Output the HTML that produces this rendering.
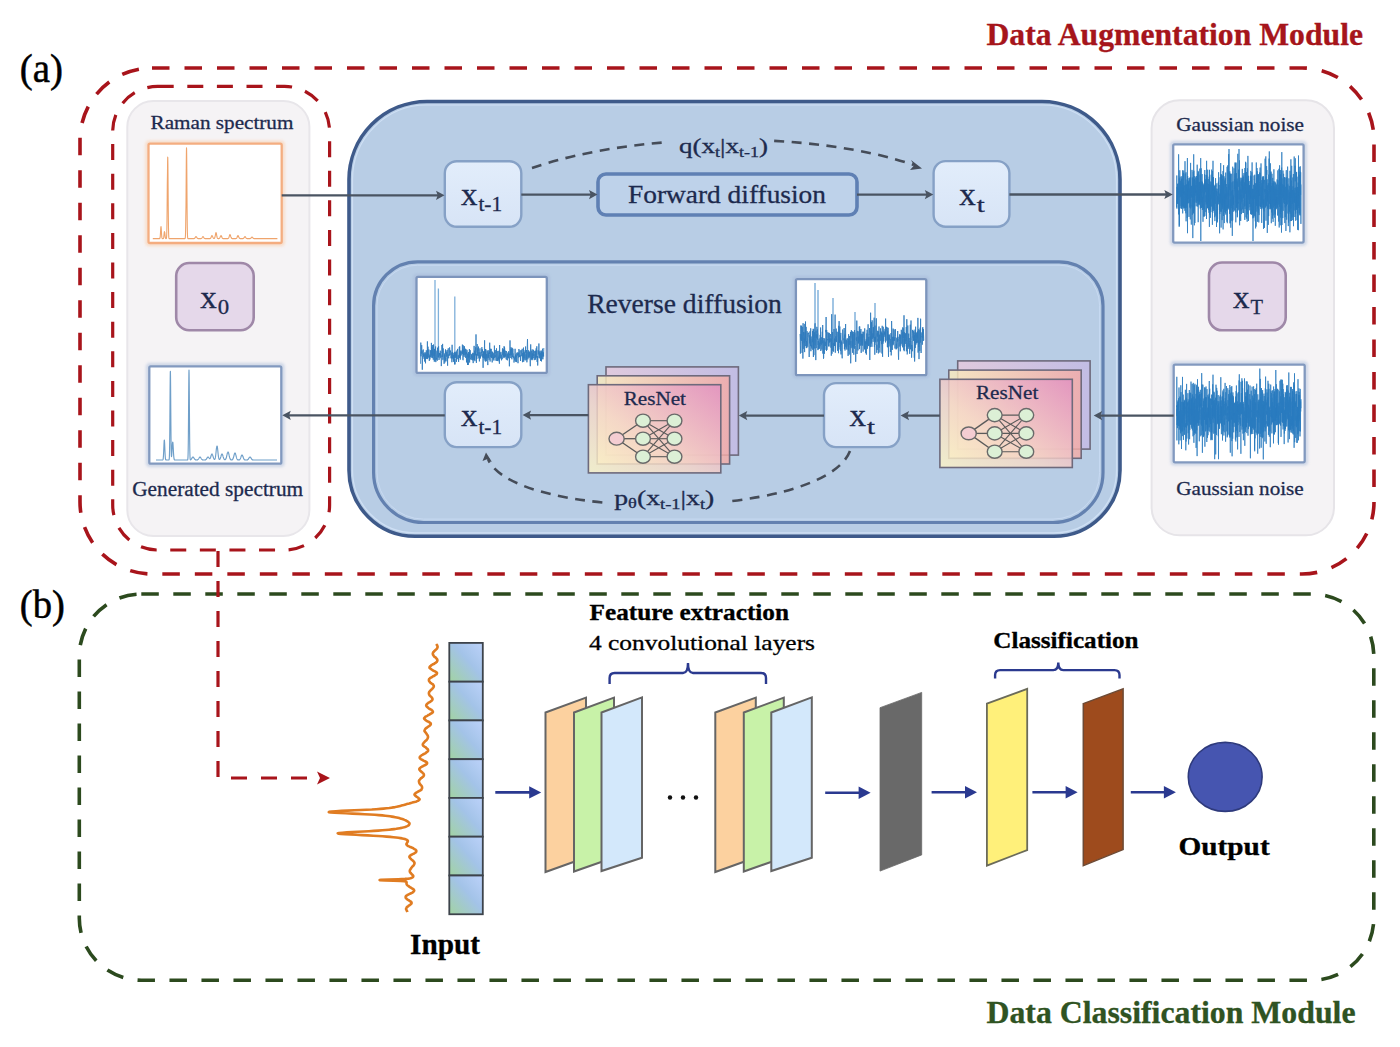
<!DOCTYPE html><html><head><meta charset="utf-8"><style>html,body{margin:0;padding:0;background:#fff;}svg{display:block;}</style></head><body>
<svg width="1400" height="1047" viewBox="0 0 1400 1047" font-family='"Liberation Serif", serif'>
<defs>
<linearGradient id="xb" x1="0" y1="0" x2="0" y2="1"><stop offset="0" stop-color="#e2edfb"/><stop offset="1" stop-color="#d7e4f6"/></linearGradient>
<linearGradient id="cell" x1="1" y1="0" x2="0" y2="1"><stop offset="0" stop-color="#bcd2fa"/><stop offset="0.45" stop-color="#a3c3e8"/><stop offset="1" stop-color="#a2d3a2"/></linearGradient>
<linearGradient id="rn3" x1="0" y1="0" x2="1" y2="0"><stop offset="0" stop-color="#e8c9dc"/><stop offset="1" stop-color="#c4b9e4"/></linearGradient>
<linearGradient id="rn2" x1="0" y1="0" x2="1" y2="0"><stop offset="0" stop-color="#f9ebbd"/><stop offset="1" stop-color="#f4aaa6"/></linearGradient>
<linearGradient id="rn1" x1="0" y1="1" x2="1" y2="0"><stop offset="0" stop-color="#fcf4c6"/><stop offset="0.4" stop-color="#f5d6c8"/><stop offset="1" stop-color="#e190c2"/></linearGradient>
<filter id="glow" x="-20%" y="-20%" width="140%" height="140%"><feGaussianBlur stdDeviation="1.5"/></filter>
</defs>
<text x="986.5" y="45.4" font-size="30.5" font-weight="bold" fill="#a6151b" stroke="#a6151b" stroke-width="0.3" textLength="376.5" lengthAdjust="spacingAndGlyphs" >Data Augmentation Module</text>
<text x="986.5" y="1023.3" font-size="30.5" font-weight="bold" fill="#2f5322" stroke="#2f5322" stroke-width="0.3" textLength="369" lengthAdjust="spacingAndGlyphs" >Data Classification Module</text>
<text x="19.8" y="82" font-size="40" font-weight="normal" fill="#000" stroke="#000" stroke-width="0.5" textLength="43.2" lengthAdjust="spacingAndGlyphs" >(a)</text>
<text x="19.8" y="617.5" font-size="40" font-weight="normal" fill="#000" stroke="#000" stroke-width="0.5" textLength="45" lengthAdjust="spacingAndGlyphs" >(b)</text>
<rect x="80" y="68" width="1294" height="506" rx="72" fill="none" stroke="#a8141b" stroke-width="3.6" stroke-dasharray="17.5 15"/>
<rect x="112.7" y="86.4" width="216.90000000000003" height="463.6" rx="45" fill="none" stroke="#a8141b" stroke-width="3.2" stroke-dasharray="16 13.6"/>
<rect x="79.3" y="594" width="1294.5" height="386.20000000000005" rx="62" fill="none" stroke="#2c4a1e" stroke-width="3.6" stroke-dasharray="17.5 14.5"/>
<rect x="127.3" y="101" width="182.09999999999997" height="435" rx="26" fill="#f5f3f5" stroke="#e8e6ea" stroke-width="2" />
<rect x="1151.6" y="100.3" width="182.4000000000001" height="434.99999999999994" rx="28" fill="#f5f3f5" stroke="#e6e4e8" stroke-width="2" />
<path d="M427 101.5 L1042 101.5 A78 78 0 0 1 1120 179.5 L1120 470.29999999999995 A66 66 0 0 1 1054 536.3 L415 536.3 A66 66 0 0 1 349 470.29999999999995 L349 179.5 A78 78 0 0 1 427 101.5 Z" fill="#b8cde5" stroke="#3e5a8a" stroke-width="3.6"/>
<path d="M427.0 105 L1042.0 105 A74.5 74.5 0 0 1 1116.5 179.5 L1116.5 470.29999999999995 A62.5 62.5 0 0 1 1054.0 532.8 L415.0 532.8 A62.5 62.5 0 0 1 352.5 470.29999999999995 L352.5 179.5 A74.5 74.5 0 0 1 427.0 105 Z" fill="none" stroke="#cfe0f5" stroke-width="1.2"/>
<path d="M417.6 261.8 L1059 261.8 A44 44 0 0 1 1103 305.8 L1103 472.5 A50 50 0 0 1 1053 522.5 L423.6 522.5 A50 50 0 0 1 373.6 472.5 L373.6 305.8 A44 44 0 0 1 417.6 261.8 Z" fill="none" stroke="#6381b0" stroke-width="3.2"/>
<path d="M417.6 265.2 L1059.0 265.2 A40.6 40.6 0 0 1 1099.6 305.8 L1099.6 472.5 A46.6 46.6 0 0 1 1053.0 519.1 L423.6 519.1 A46.6 46.6 0 0 1 377 472.5 L377 305.8 A40.6 40.6 0 0 1 417.6 265.2 Z" fill="none" stroke="#c8daf2" stroke-width="1"/>
<rect x="598" y="174" width="259" height="41" rx="8" fill="#bed2ea" stroke="#5f80b4" stroke-width="3.6" />
<text x="628" y="203" font-size="25.7" font-weight="normal" fill="#1d2a4e" stroke="#1d2a4e" stroke-width="0.3" textLength="198" lengthAdjust="spacingAndGlyphs" >Forward diffusion</text>
<text x="587.2" y="312.9" font-size="27" font-weight="normal" fill="#1d2a4e" stroke="#1d2a4e" stroke-width="0.3" textLength="194.7" lengthAdjust="spacingAndGlyphs" >Reverse diffusion</text>
<rect x="444.8" y="161.2" width="76.49999999999994" height="65.60000000000002" rx="12" fill="url(#xb)" stroke="#86a1c6" stroke-width="2.4" />
<text x="460.9" y="205" font-size="32" font-weight="normal" fill="#1d2a4e" stroke="#1d2a4e" stroke-width="0.3" textLength="16.5" lengthAdjust="spacingAndGlyphs" >x</text>
<text x="478.4" y="211.4" font-size="21.5" font-weight="normal" fill="#1d2a4e" stroke="#1d2a4e" stroke-width="0.3" textLength="23.8" lengthAdjust="spacingAndGlyphs" >t-1</text>
<rect x="933.6" y="161.1" width="75.79999999999995" height="65.6" rx="12" fill="url(#xb)" stroke="#86a1c6" stroke-width="2.4" />
<text x="959.3" y="204.9" font-size="32" font-weight="normal" fill="#1d2a4e" stroke="#1d2a4e" stroke-width="0.3" textLength="16.5" lengthAdjust="spacingAndGlyphs" >x</text>
<text x="976.8" y="212" font-size="21.5" font-weight="normal" fill="#1d2a4e" stroke="#1d2a4e" stroke-width="0.3" textLength="8" lengthAdjust="spacingAndGlyphs" >t</text>
<rect x="444.8" y="382.2" width="76.49999999999994" height="64.90000000000003" rx="12" fill="url(#xb)" stroke="#86a1c6" stroke-width="2.4" />
<text x="460.9" y="426" font-size="32" font-weight="normal" fill="#1d2a4e" stroke="#1d2a4e" stroke-width="0.3" textLength="16.5" lengthAdjust="spacingAndGlyphs" >x</text>
<text x="478.4" y="433.6" font-size="21.5" font-weight="normal" fill="#1d2a4e" stroke="#1d2a4e" stroke-width="0.3" textLength="23.8" lengthAdjust="spacingAndGlyphs" >t-1</text>
<rect x="824" y="383.1" width="75.39999999999998" height="64.0" rx="12" fill="url(#xb)" stroke="#86a1c6" stroke-width="2.4" />
<text x="849.6" y="426" font-size="32" font-weight="normal" fill="#1d2a4e" stroke="#1d2a4e" stroke-width="0.3" textLength="16.5" lengthAdjust="spacingAndGlyphs" >x</text>
<text x="867.1" y="433.6" font-size="21.5" font-weight="normal" fill="#1d2a4e" stroke="#1d2a4e" stroke-width="0.3" textLength="8" lengthAdjust="spacingAndGlyphs" >t</text>
<rect x="176.2" y="263" width="77.5" height="67.19999999999999" rx="13" fill="#e5d8ea" stroke="#9f88a8" stroke-width="2.6" />
<text x="200.2" y="308" font-size="32" font-weight="normal" fill="#1d2a4e" stroke="#1d2a4e" stroke-width="0.3" textLength="16.5" lengthAdjust="spacingAndGlyphs" >x</text>
<text x="217.7" y="314.2" font-size="20.5" font-weight="normal" fill="#1d2a4e" stroke="#1d2a4e" stroke-width="0.3" textLength="11.4" lengthAdjust="spacingAndGlyphs" >0</text>
<rect x="1209" y="262.5" width="76.70000000000005" height="67.80000000000001" rx="13" fill="#e5d8ea" stroke="#9f88a8" stroke-width="2.6" />
<text x="1233" y="308" font-size="32" font-weight="normal" fill="#1d2a4e" stroke="#1d2a4e" stroke-width="0.3" textLength="16.5" lengthAdjust="spacingAndGlyphs" >x</text>
<text x="1250.5" y="314" font-size="20.5" font-weight="normal" fill="#1d2a4e" stroke="#1d2a4e" stroke-width="0.3" textLength="12.5" lengthAdjust="spacingAndGlyphs" >T</text>
<rect x="147.0" y="142.2" width="136.2" height="102.30000000000001" rx="2" fill="none" stroke="#f9d3b6" stroke-width="3" filter="url(#glow)" opacity="0.8"/>
<rect x="148.5" y="143.7" width="133.2" height="99.30000000000001" rx="1.5" fill="#fff" stroke="#f4ad80" stroke-width="2.3" />
<rect x="147.8" y="364.8" width="135.0" height="100.39999999999998" rx="2" fill="none" stroke="#b9c8e0" stroke-width="3" filter="url(#glow)" opacity="0.8"/>
<rect x="149.3" y="366.3" width="132.0" height="97.39999999999998" rx="1.5" fill="#fff" stroke="#8299bf" stroke-width="2.3" />
<rect x="1171.7" y="142.8" width="133.39999999999986" height="101.29999999999998" rx="2" fill="none" stroke="#b9c8e0" stroke-width="3" filter="url(#glow)" opacity="0.8"/>
<rect x="1173.2" y="144.3" width="130.39999999999986" height="98.29999999999998" rx="1.5" fill="#fff" stroke="#8299bf" stroke-width="2.3" />
<rect x="1172.2" y="363.1" width="134.0" height="100.69999999999999" rx="2" fill="none" stroke="#b9c8e0" stroke-width="3" filter="url(#glow)" opacity="0.8"/>
<rect x="1173.7" y="364.6" width="131.0" height="97.69999999999999" rx="1.5" fill="#fff" stroke="#8299bf" stroke-width="2.3" />
<rect x="415.0" y="275.4" width="133.29999999999995" height="99.0" rx="2" fill="none" stroke="#a9bddb" stroke-width="3" filter="url(#glow)" opacity="0.8"/>
<rect x="416.5" y="276.9" width="130.29999999999995" height="96.0" rx="1.5" fill="#fff" stroke="#7d95bc" stroke-width="2.3" />
<rect x="794.4" y="277.7" width="133.39999999999998" height="99.0" rx="2" fill="none" stroke="#a9bddb" stroke-width="3" filter="url(#glow)" opacity="0.8"/>
<rect x="795.9" y="279.2" width="130.39999999999998" height="96.0" rx="1.5" fill="#fff" stroke="#7d95bc" stroke-width="2.3" />
<polyline points="152.8,238.6 152.9,238.6 153.0,238.6 153.1,238.6 153.2,238.6 153.3,238.6 153.4,238.6 153.5,238.6 153.6,238.6 153.7,238.6 153.8,238.6 153.9,238.6 154.0,238.6 154.2,238.6 154.3,238.6 154.4,238.6 154.5,238.6 154.6,238.6 154.7,238.6 154.8,238.6 154.9,238.6 155.0,238.6 155.1,238.6 155.2,238.6 155.3,238.6 155.4,238.6 155.5,238.6 155.6,238.6 155.7,238.6 155.8,238.6 155.9,238.6 156.0,238.6 156.1,238.6 156.2,238.6 156.3,238.6 156.4,238.6 156.5,238.6 156.6,238.6 156.7,238.6 156.9,238.6 157.0,238.6 157.1,238.6 157.2,238.6 157.3,238.6 157.4,238.6 157.5,238.6 157.6,238.6 157.7,238.6 157.8,238.6 157.9,238.6 158.0,238.6 158.1,238.6 158.2,238.6 158.3,238.6 158.4,238.6 158.5,238.6 158.6,238.6 158.7,238.6 158.8,238.6 158.9,238.6 159.0,238.6 159.1,238.6 159.2,238.6 159.3,238.6 159.5,238.6 159.6,238.6 159.7,238.5 159.8,238.4 159.9,238.3 160.0,238.0 160.1,237.5 160.2,236.8 160.3,235.7 160.4,234.4 160.5,232.8 160.6,231.0 160.7,229.3 160.8,227.8 160.9,226.9 161.0,226.6 161.1,227.0 161.2,228.1 161.3,229.6 161.4,231.3 161.5,233.1 161.6,234.7 161.7,235.9 161.8,236.9 161.9,237.6 162.0,238.0 162.2,238.3 162.3,238.5 162.4,238.5 162.5,238.6 162.6,238.6 162.7,238.6 162.8,238.6 162.9,238.6 163.0,238.6 163.1,238.6 163.2,238.5 163.3,238.5 163.4,238.4 163.5,238.2 163.6,237.8 163.7,237.4 163.8,236.7 163.9,235.9 164.0,234.9 164.1,233.8 164.2,232.9 164.3,232.1 164.4,231.7 164.5,231.6 164.6,232.0 164.8,232.7 164.9,233.7 165.0,234.7 165.1,235.7 165.2,236.6 165.3,237.3 165.4,237.8 165.5,238.1 165.6,238.3 165.7,238.5 165.8,238.5 165.9,238.6 166.0,238.6 166.1,238.6 166.2,238.5 166.3,238.5 166.4,238.3 166.5,237.8 166.6,236.8 166.7,235.1 166.8,231.9 166.9,226.9 167.0,219.4 167.1,209.4 167.2,197.3 167.3,184.1 167.5,171.6 167.6,162.0 167.7,157.0 167.8,157.7 167.9,163.9 168.0,174.4 168.1,187.2 168.2,200.3 168.3,212.1 168.4,221.5 168.5,228.3 168.6,232.8 168.7,235.6 168.8,237.1 168.9,237.9 169.0,238.3 169.1,238.5 169.2,238.6 169.3,238.6 169.4,238.6 169.5,238.6 169.6,238.6 169.7,238.6 169.8,238.6 169.9,238.6 170.1,238.6 170.2,238.6 170.3,238.6 170.4,238.6 170.5,238.6 170.6,238.6 170.7,238.6 170.8,238.6 170.9,238.6 171.0,238.6 171.1,238.6 171.2,238.6 171.3,238.6 171.4,238.6 171.5,238.6 171.6,238.6 171.7,238.6 171.8,238.6 171.9,238.6 172.0,238.6 172.1,238.6 172.2,238.6 172.3,238.6 172.4,238.6 172.5,238.6 172.6,238.6 172.8,238.6 172.9,238.6 173.0,238.6 173.1,238.6 173.2,238.6 173.3,238.6 173.4,238.6 173.5,238.6 173.6,238.6 173.7,238.6 173.8,238.6 173.9,238.6 174.0,238.6 174.1,238.6 174.2,238.6 174.3,238.6 174.4,238.6 174.5,238.6 174.6,238.6 174.7,238.6 174.8,238.6 174.9,238.6 175.0,238.6 175.1,238.6 175.2,238.6 175.4,238.6 175.5,238.6 175.6,238.6 175.7,238.6 175.8,238.6 175.9,238.6 176.0,238.6 176.1,238.6 176.2,238.6 176.3,238.6 176.4,238.6 176.5,238.6 176.6,238.6 176.7,238.6 176.8,238.6 176.9,238.6 177.0,238.6 177.1,238.6 177.2,238.6 177.3,238.6 177.4,238.6 177.5,238.6 177.6,238.6 177.7,238.6 177.8,238.6 177.9,238.6 178.1,238.6 178.2,238.6 178.3,238.6 178.4,238.6 178.5,238.6 178.6,238.6 178.7,238.6 178.8,238.6 178.9,238.6 179.0,238.6 179.1,238.6 179.2,238.6 179.3,238.6 179.4,238.6 179.5,238.6 179.6,238.6 179.7,238.6 179.8,238.6 179.9,238.6 180.0,238.6 180.1,238.6 180.2,238.6 180.3,238.6 180.4,238.6 180.5,238.6 180.7,238.6 180.8,238.6 180.9,238.6 181.0,238.6 181.1,238.6 181.2,238.6 181.3,238.6 181.4,238.6 181.5,238.6 181.6,238.6 181.7,238.6 181.8,238.6 181.9,238.6 182.0,238.6 182.1,238.6 182.2,238.6 182.3,238.6 182.4,238.6 182.5,238.6 182.6,238.6 182.7,238.6 182.8,238.6 182.9,238.6 183.0,238.6 183.1,238.6 183.2,238.6 183.4,238.6 183.5,238.6 183.6,238.6 183.7,238.6 183.8,238.6 183.9,238.6 184.0,238.6 184.1,238.6 184.2,238.6 184.3,238.6 184.4,238.6 184.5,238.6 184.6,238.6 184.7,238.6 184.8,238.6 184.9,238.6 185.0,238.5 185.1,238.4 185.2,238.2 185.3,237.6 185.4,236.5 185.5,234.4 185.6,230.8 185.7,224.9 185.8,216.4 186.0,205.1 186.1,191.4 186.2,176.7 186.3,163.1 186.4,152.8 186.5,147.9 186.6,149.2 186.7,156.6 186.8,168.6 186.9,183.0 187.0,197.4 187.1,210.2 187.2,220.4 187.3,227.7 187.4,232.5 187.5,235.5 187.6,237.1 187.7,237.9 187.8,238.3 187.9,238.5 188.0,238.6 188.1,238.6 188.2,238.6 188.3,238.6 188.4,238.6 188.5,238.6 188.7,238.6 188.8,238.6 188.9,238.6 189.0,238.6 189.1,238.6 189.2,238.6 189.3,238.6 189.4,238.6 189.5,238.6 189.6,238.6 189.7,238.6 189.8,238.6 189.9,238.6 190.0,238.6 190.1,238.6 190.2,238.6 190.3,238.6 190.4,238.6 190.5,238.6 190.6,238.6 190.7,238.6 190.8,238.6 190.9,238.6 191.0,238.6 191.1,238.6 191.3,238.6 191.4,238.6 191.5,238.6 191.6,238.6 191.7,238.6 191.8,238.6 191.9,238.6 192.0,238.6 192.1,238.6 192.2,238.6 192.3,238.6 192.4,238.6 192.5,238.6 192.6,238.6 192.7,238.6 192.8,238.6 192.9,238.6 193.0,238.6 193.1,238.6 193.2,238.6 193.3,238.6 193.4,238.6 193.5,238.6 193.6,238.6 193.7,238.6 193.8,238.6 194.0,238.6 194.1,238.6 194.2,238.5 194.3,238.5 194.4,238.5 194.5,238.4 194.6,238.3 194.7,238.3 194.8,238.1 194.9,238.0 195.0,237.9 195.1,237.7 195.2,237.5 195.3,237.4 195.4,237.2 195.5,237.0 195.6,236.9 195.7,236.8 195.8,236.7 195.9,236.6 196.0,236.6 196.1,236.6 196.2,236.7 196.3,236.8 196.4,237.0 196.6,237.1 196.7,237.3 196.8,237.5 196.9,237.6 197.0,237.8 197.1,238.0 197.2,238.1 197.3,238.2 197.4,238.3 197.5,238.4 197.6,238.4 197.7,238.5 197.8,238.5 197.9,238.5 198.0,238.6 198.1,238.6 198.2,238.6 198.3,238.6 198.4,238.6 198.5,238.6 198.6,238.6 198.7,238.6 198.8,238.6 198.9,238.6 199.0,238.6 199.1,238.6 199.3,238.6 199.4,238.6 199.5,238.6 199.6,238.6 199.7,238.6 199.8,238.6 199.9,238.6 200.0,238.6 200.1,238.6 200.2,238.6 200.3,238.6 200.4,238.6 200.5,238.6 200.6,238.6 200.7,238.6 200.8,238.6 200.9,238.6 201.0,238.6 201.1,238.5 201.2,238.5 201.3,238.5 201.4,238.4 201.5,238.4 201.6,238.3 201.7,238.2 201.9,238.1 202.0,237.9 202.1,237.8 202.2,237.6 202.3,237.4 202.4,237.3 202.5,237.1 202.6,236.9 202.7,236.8 202.8,236.7 202.9,236.6 203.0,236.6 203.1,236.6 203.2,236.7 203.3,236.8 203.4,236.9 203.5,237.1 203.6,237.2 203.7,237.4 203.8,237.6 203.9,237.8 204.0,237.9 204.1,238.1 204.2,238.2 204.3,238.3 204.4,238.4 204.6,238.4 204.7,238.5 204.8,238.5 204.9,238.5 205.0,238.6 205.1,238.6 205.2,238.6 205.3,238.6 205.4,238.6 205.5,238.6 205.6,238.6 205.7,238.6 205.8,238.6 205.9,238.6 206.0,238.6 206.1,238.6 206.2,238.6 206.3,238.6 206.4,238.6 206.5,238.6 206.6,238.6 206.7,238.6 206.8,238.6 206.9,238.6 207.0,238.6 207.2,238.6 207.3,238.6 207.4,238.6 207.5,238.6 207.6,238.6 207.7,238.6 207.8,238.6 207.9,238.6 208.0,238.6 208.1,238.6 208.2,238.6 208.3,238.6 208.4,238.6 208.5,238.6 208.6,238.6 208.7,238.6 208.8,238.6 208.9,238.6 209.0,238.6 209.1,238.6 209.2,238.6 209.3,238.6 209.4,238.6 209.5,238.6 209.6,238.6 209.7,238.6 209.9,238.6 210.0,238.6 210.1,238.5 210.2,238.5 210.3,238.5 210.4,238.4 210.5,238.3 210.6,238.2 210.7,238.1 210.8,237.9 210.9,237.7 211.0,237.5 211.1,237.3 211.2,237.0 211.3,236.7 211.4,236.5 211.5,236.2 211.6,236.0 211.7,235.8 211.8,235.7 211.9,235.6 212.0,235.6 212.1,235.7 212.2,235.8 212.3,235.9 212.5,236.2 212.6,236.4 212.7,236.7 212.8,236.9 212.9,237.2 213.0,237.4 213.1,237.7 213.2,237.8 213.3,238.0 213.4,238.2 213.5,238.3 213.6,238.4 213.7,238.4 213.8,238.5 213.9,238.5 214.0,238.5 214.1,238.5 214.2,238.5 214.3,238.4 214.4,238.3 214.5,238.2 214.6,238.0 214.7,237.8 214.8,237.5 214.9,237.1 215.0,236.6 215.2,236.1 215.3,235.6 215.4,235.0 215.5,234.4 215.6,233.8 215.7,233.3 215.8,233.0 215.9,232.7 216.0,232.6 216.1,232.7 216.2,232.9 216.3,233.2 216.4,233.7 216.5,234.2 216.6,234.8 216.7,235.4 216.8,236.0 216.9,236.5 217.0,236.9 217.1,237.3 217.2,237.7 217.3,237.9 217.4,238.1 217.5,238.3 217.6,238.4 217.7,238.5 217.9,238.5 218.0,238.5 218.1,238.6 218.2,238.6 218.3,238.6 218.4,238.6 218.5,238.6 218.6,238.6 218.7,238.6 218.8,238.6 218.9,238.6 219.0,238.5 219.1,238.5 219.2,238.5 219.3,238.4 219.4,238.4 219.5,238.3 219.6,238.2 219.7,238.0 219.8,237.8 219.9,237.6 220.0,237.4 220.1,237.2 220.2,236.9 220.3,236.6 220.5,236.4 220.6,236.1 220.7,235.9 220.8,235.8 220.9,235.7 221.0,235.6 221.1,235.6 221.2,235.7 221.3,235.8 221.4,236.0 221.5,236.2 221.6,236.5 221.7,236.8 221.8,237.0 221.9,237.3 222.0,237.5 222.1,237.7 222.2,237.9 222.3,238.1 222.4,238.2 222.5,238.3 222.6,238.4 222.7,238.5 222.8,238.5 222.9,238.5 223.0,238.6 223.2,238.6 223.3,238.6 223.4,238.6 223.5,238.6 223.6,238.6 223.7,238.6 223.8,238.6 223.9,238.6 224.0,238.6 224.1,238.6 224.2,238.6 224.3,238.6 224.4,238.6 224.5,238.6 224.6,238.6 224.7,238.6 224.8,238.6 224.9,238.6 225.0,238.6 225.1,238.6 225.2,238.6 225.3,238.6 225.4,238.6 225.5,238.6 225.6,238.6 225.8,238.6 225.9,238.6 226.0,238.6 226.1,238.6 226.2,238.6 226.3,238.6 226.4,238.6 226.5,238.6 226.6,238.6 226.7,238.6 226.8,238.6 226.9,238.6 227.0,238.6 227.1,238.6 227.2,238.6 227.3,238.6 227.4,238.6 227.5,238.6 227.6,238.6 227.7,238.6 227.8,238.6 227.9,238.5 228.0,238.5 228.1,238.5 228.2,238.4 228.3,238.3 228.5,238.2 228.6,238.1 228.7,237.9 228.8,237.7 228.9,237.5 229.0,237.2 229.1,236.9 229.2,236.6 229.3,236.2 229.4,235.8 229.5,235.5 229.6,235.2 229.7,234.9 229.8,234.7 229.9,234.6 230.0,234.6 230.1,234.7 230.2,234.8 230.3,235.0 230.4,235.3 230.5,235.6 230.6,235.9 230.7,236.3 230.8,236.6 230.9,237.0 231.1,237.3 231.2,237.5 231.3,237.8 231.4,238.0 231.5,238.1 231.6,238.3 231.7,238.4 231.8,238.4 231.9,238.5 232.0,238.5 232.1,238.5 232.2,238.6 232.3,238.6 232.4,238.6 232.5,238.6 232.6,238.6 232.7,238.6 232.8,238.6 232.9,238.6 233.0,238.6 233.1,238.6 233.2,238.6 233.3,238.6 233.4,238.6 233.5,238.6 233.6,238.6 233.8,238.6 233.9,238.6 234.0,238.6 234.1,238.6 234.2,238.6 234.3,238.6 234.4,238.6 234.5,238.6 234.6,238.6 234.7,238.6 234.8,238.6 234.9,238.6 235.0,238.6 235.1,238.6 235.2,238.6 235.3,238.6 235.4,238.6 235.5,238.6 235.6,238.6 235.7,238.6 235.8,238.6 235.9,238.6 236.0,238.5 236.1,238.5 236.2,238.5 236.4,238.4 236.5,238.3 236.6,238.2 236.7,238.1 236.8,237.9 236.9,237.8 237.0,237.6 237.1,237.3 237.2,237.1 237.3,236.8 237.4,236.5 237.5,236.3 237.6,236.0 237.7,235.9 237.8,235.7 237.9,235.6 238.0,235.6 238.1,235.6 238.2,235.7 238.3,235.9 238.4,236.1 238.5,236.3 238.6,236.6 238.7,236.9 238.8,237.1 238.9,237.4 239.1,237.6 239.2,237.8 239.3,238.0 239.4,238.1 239.5,238.3 239.6,238.3 239.7,238.4 239.8,238.5 239.9,238.5 240.0,238.5 240.1,238.6 240.2,238.6 240.3,238.6 240.4,238.6 240.5,238.6 240.6,238.6 240.7,238.6 240.8,238.6 240.9,238.6 241.0,238.6 241.1,238.6 241.2,238.6 241.3,238.6 241.4,238.6 241.5,238.6 241.7,238.6 241.8,238.6 241.9,238.6 242.0,238.6 242.1,238.6 242.2,238.6 242.3,238.6 242.4,238.6 242.5,238.6 242.6,238.6 242.7,238.6 242.8,238.6 242.9,238.6 243.0,238.6 243.1,238.5 243.2,238.5 243.3,238.5 243.4,238.4 243.5,238.4 243.6,238.3 243.7,238.2 243.8,238.1 243.9,238.0 244.0,237.8 244.1,237.6 244.2,237.5 244.4,237.3 244.5,237.1 244.6,237.0 244.7,236.8 244.8,236.7 244.9,236.6 245.0,236.6 245.1,236.6 245.2,236.7 245.3,236.8 245.4,236.9 245.5,237.0 245.6,237.2 245.7,237.4 245.8,237.6 245.9,237.7 246.0,237.9 246.1,238.0 246.2,238.2 246.3,238.3 246.4,238.3 246.5,238.4 246.6,238.5 246.7,238.5 246.8,238.5 247.0,238.6 247.1,238.6 247.2,238.6 247.3,238.6 247.4,238.6 247.5,238.6 247.6,238.6 247.7,238.6 247.8,238.6 247.9,238.6 248.0,238.6 248.1,238.6 248.2,238.6 248.3,238.6 248.4,238.6 248.5,238.6 248.6,238.6 248.7,238.6 248.8,238.6 248.9,238.6 249.0,238.6 249.1,238.6 249.2,238.6 249.3,238.6 249.4,238.6 249.5,238.6 249.7,238.6 249.8,238.6 249.9,238.6 250.0,238.6 250.1,238.6 250.2,238.5 250.3,238.5 250.4,238.5 250.5,238.4 250.6,238.4 250.7,238.3 250.8,238.2 250.9,238.2 251.0,238.0 251.1,237.9 251.2,237.8 251.3,237.7 251.4,237.5 251.5,237.4 251.6,237.3 251.7,237.2 251.8,237.1 251.9,237.1 252.0,237.1 252.1,237.1 252.3,237.2 252.4,237.3 252.5,237.4 252.6,237.5 252.7,237.6 252.8,237.8 252.9,237.9 253.0,238.0 253.1,238.1 253.2,238.2 253.3,238.3 253.4,238.4 253.5,238.4 253.6,238.5 253.7,238.5 253.8,238.5 253.9,238.6 254.0,238.6 254.1,238.6 254.2,238.6 254.3,238.6 254.4,238.6 254.5,238.6 254.6,238.6 254.7,238.6 254.8,238.6 255.0,238.6 255.1,238.6 255.2,238.6 255.3,238.6 255.4,238.6 255.5,238.6 255.6,238.6 255.7,238.6 255.8,238.6 255.9,238.6 256.0,238.6 256.1,238.6 256.2,238.6 256.3,238.6 256.4,238.6 256.5,238.6 256.6,238.6 256.7,238.6 256.8,238.6 256.9,238.6 257.0,238.6 257.1,238.6 257.2,238.6 257.3,238.6 257.4,238.6 257.6,238.6 257.7,238.6 257.8,238.6 257.9,238.6 258.0,238.6 258.1,238.6 258.2,238.6 258.3,238.6 258.4,238.6 258.5,238.6 258.6,238.6 258.7,238.6 258.8,238.6 258.9,238.6 259.0,238.6 259.1,238.6 259.2,238.6 259.3,238.6 259.4,238.6 259.5,238.6 259.6,238.6 259.7,238.6 259.8,238.6 259.9,238.6 260.0,238.6 260.1,238.6 260.3,238.6 260.4,238.6 260.5,238.6 260.6,238.6 260.7,238.6 260.8,238.6 260.9,238.6 261.0,238.6 261.1,238.6 261.2,238.6 261.3,238.6 261.4,238.6 261.5,238.6 261.6,238.6 261.7,238.6 261.8,238.6 261.9,238.6 262.0,238.6 262.1,238.6 262.2,238.6 262.3,238.6 262.4,238.6 262.5,238.6 262.6,238.6 262.7,238.6 262.9,238.6 263.0,238.6 263.1,238.6 263.2,238.6 263.3,238.6 263.4,238.6 263.5,238.6 263.6,238.6 263.7,238.6 263.8,238.6 263.9,238.6 264.0,238.6 264.1,238.6 264.2,238.6 264.3,238.6 264.4,238.6 264.5,238.6 264.6,238.6 264.7,238.6 264.8,238.6 264.9,238.6 265.0,238.6 265.1,238.6 265.2,238.6 265.3,238.6 265.4,238.6 265.6,238.6 265.7,238.6 265.8,238.6 265.9,238.6 266.0,238.6 266.1,238.6 266.2,238.6 266.3,238.6 266.4,238.6 266.5,238.6 266.6,238.6 266.7,238.6 266.8,238.6 266.9,238.6 267.0,238.6 267.1,238.6 267.2,238.6 267.3,238.6 267.4,238.6 267.5,238.6 267.6,238.6 267.7,238.6 267.8,238.6 267.9,238.6 268.0,238.6 268.2,238.6 268.3,238.6 268.4,238.6 268.5,238.6 268.6,238.6 268.7,238.6 268.8,238.6 268.9,238.6 269.0,238.6 269.1,238.6 269.2,238.6 269.3,238.6 269.4,238.6 269.5,238.6 269.6,238.6 269.7,238.6 269.8,238.6 269.9,238.6 270.0,238.6 270.1,238.6 270.2,238.6 270.3,238.6 270.4,238.6 270.5,238.6 270.6,238.6 270.7,238.6 270.9,238.6 271.0,238.6 271.1,238.6 271.2,238.6 271.3,238.6 271.4,238.6 271.5,238.6 271.6,238.6 271.7,238.6 271.8,238.6 271.9,238.6 272.0,238.6 272.1,238.6 272.2,238.6 272.3,238.6 272.4,238.6 272.5,238.6 272.6,238.6 272.7,238.6 272.8,238.6 272.9,238.6 273.0,238.6 273.1,238.6 273.2,238.6 273.3,238.6 273.5,238.6 273.6,238.6 273.7,238.6 273.8,238.6 273.9,238.6 274.0,238.6 274.1,238.6 274.2,238.6 274.3,238.6 274.4,238.6 274.5,238.6 274.6,238.6 274.7,238.6 274.8,238.6 274.9,238.6 275.0,238.6 275.1,238.6 275.2,238.6 275.3,238.6 275.4,238.6 275.5,238.6 275.6,238.6 275.7,238.6 275.8,238.6 275.9,238.6 276.0,238.6 276.2,238.6 276.3,238.6 276.4,238.6 276.5,238.6 276.6,238.6 276.7,238.6 276.8,238.6 276.9,238.6 277.0,238.6 277.1,238.6 277.2,238.6 277.3,238.6 277.4,238.6" fill="none" stroke="#efa46c" stroke-width="1.1" stroke-linejoin="round" />
<polyline points="156.0,460.0 156.1,460.0 156.2,460.0 156.3,460.0 156.4,460.0 156.5,460.0 156.6,460.0 156.7,460.0 156.8,460.0 156.9,460.0 157.0,460.0 157.1,460.0 157.2,460.0 157.3,460.0 157.4,460.0 157.5,460.0 157.6,460.0 157.7,460.0 157.8,460.0 157.9,460.0 158.0,460.0 158.1,460.0 158.2,460.0 158.3,460.0 158.4,460.0 158.5,460.0 158.6,460.0 158.7,460.0 158.8,460.0 158.9,460.0 159.0,460.0 159.1,460.0 159.2,460.0 159.3,460.0 159.4,460.0 159.5,460.0 159.6,460.0 159.7,460.0 159.8,460.0 159.9,460.0 160.0,460.0 160.1,460.0 160.2,460.0 160.3,460.0 160.4,460.0 160.5,460.0 160.6,460.0 160.7,460.0 160.8,460.0 160.9,460.0 161.0,460.0 161.1,460.0 161.2,460.0 161.3,460.0 161.4,460.0 161.6,460.0 161.7,460.0 161.8,460.0 161.9,460.0 162.0,460.0 162.1,460.0 162.2,460.0 162.3,460.0 162.4,460.0 162.5,460.0 162.6,460.0 162.7,459.9 162.8,459.8 162.9,459.7 163.0,459.5 163.1,459.1 163.2,458.6 163.3,457.7 163.4,456.6 163.5,455.1 163.6,453.3 163.7,451.1 163.8,448.7 163.9,446.2 164.0,443.9 164.1,442.0 164.2,440.6 164.3,440.0 164.4,440.2 164.5,441.2 164.6,442.9 164.7,445.1 164.8,447.5 164.9,450.0 165.0,452.3 165.1,454.3 165.2,455.9 165.3,457.2 165.4,458.2 165.5,458.9 165.6,459.3 165.7,459.6 165.8,459.8 165.9,459.9 166.0,459.9 166.1,460.0 166.2,460.0 166.3,460.0 166.4,460.0 166.5,460.0 166.6,460.0 166.7,460.0 166.8,460.0 166.9,460.0 167.0,460.0 167.1,460.0 167.2,460.0 167.3,460.0 167.4,460.0 167.5,460.0 167.6,460.0 167.7,460.0 167.8,460.0 167.9,460.0 168.0,460.0 168.1,460.0 168.2,460.0 168.3,460.0 168.4,460.0 168.5,460.0 168.6,460.0 168.7,460.0 168.8,460.0 168.9,459.9 169.0,459.8 169.1,459.6 169.2,459.1 169.3,458.1 169.4,456.2 169.5,453.0 169.6,447.9 169.7,440.3 169.8,430.1 169.9,417.6 170.0,403.7 170.1,390.3 170.2,379.2 170.3,372.4 170.4,371.3 170.5,376.0 170.6,385.6 170.7,398.4 170.8,412.3 170.9,425.4 171.0,436.5 171.1,444.9 171.2,450.7 171.3,454.2 171.4,456.0 171.5,456.6 171.6,456.3 171.7,455.5 171.8,454.2 171.9,452.6 172.0,450.8 172.1,448.8 172.2,446.9 172.3,445.2 172.4,443.7 172.6,442.6 172.7,442.1 172.8,442.1 172.9,442.6 173.0,443.7 173.1,445.2 173.2,447.0 173.3,448.9 173.4,450.8 173.5,452.7 173.6,454.3 173.7,455.7 173.8,456.9 173.9,457.8 174.0,458.5 174.1,459.0 174.2,459.4 174.3,459.6 174.4,459.8 174.5,459.9 174.6,459.9 174.7,460.0 174.8,460.0 174.9,460.0 175.0,460.0 175.1,460.0 175.2,460.0 175.3,460.0 175.4,460.0 175.5,460.0 175.6,460.0 175.7,460.0 175.8,460.0 175.9,460.0 176.0,460.0 176.1,460.0 176.2,460.0 176.3,460.0 176.4,460.0 176.5,460.0 176.6,460.0 176.7,460.0 176.8,460.0 176.9,460.0 177.0,460.0 177.1,460.0 177.2,460.0 177.3,460.0 177.4,460.0 177.5,460.0 177.6,460.0 177.7,460.0 177.8,460.0 177.9,460.0 178.0,460.0 178.1,460.0 178.2,460.0 178.3,460.0 178.4,460.0 178.5,460.0 178.6,460.0 178.7,460.0 178.8,460.0 178.9,460.0 179.0,460.0 179.1,460.0 179.2,460.0 179.3,460.0 179.4,460.0 179.5,460.0 179.6,460.0 179.7,460.0 179.8,460.0 179.9,460.0 180.0,460.0 180.1,460.0 180.2,460.0 180.3,460.0 180.4,460.0 180.5,460.0 180.6,460.0 180.7,460.0 180.8,460.0 180.9,460.0 181.0,460.0 181.1,460.0 181.2,460.0 181.3,460.0 181.4,460.0 181.5,460.0 181.6,460.0 181.7,460.0 181.8,460.0 181.9,460.0 182.0,460.0 182.1,460.0 182.2,460.0 182.3,460.0 182.4,460.0 182.5,460.0 182.6,460.0 182.7,460.0 182.8,460.0 182.9,460.0 183.0,460.0 183.1,460.0 183.2,460.0 183.3,460.0 183.4,460.0 183.6,460.0 183.7,460.0 183.8,460.0 183.9,460.0 184.0,460.0 184.1,460.0 184.2,460.0 184.3,460.0 184.4,460.0 184.5,460.0 184.6,460.0 184.7,460.0 184.8,460.0 184.9,460.0 185.0,460.0 185.1,460.0 185.2,460.0 185.3,460.0 185.4,460.0 185.5,460.0 185.6,460.0 185.7,460.0 185.8,460.0 185.9,460.0 186.0,460.0 186.1,460.0 186.2,460.0 186.3,460.0 186.4,460.0 186.5,460.0 186.6,460.0 186.7,460.0 186.8,460.0 186.9,460.0 187.0,460.0 187.1,460.0 187.2,460.0 187.3,460.0 187.4,460.0 187.5,460.0 187.6,459.9 187.7,459.7 187.8,459.3 187.9,458.5 188.0,456.9 188.1,454.1 188.2,449.6 188.3,442.7 188.4,433.2 188.5,421.2 188.6,407.5 188.7,393.5 188.8,381.3 188.9,373.0 189.0,370.0 189.1,373.0 189.2,381.3 189.3,393.5 189.4,407.5 189.5,421.2 189.6,433.2 189.7,442.7 189.8,449.5 189.9,454.1 190.0,456.8 190.1,458.4 190.2,459.2 190.3,459.6 190.4,459.7 190.5,459.8 190.6,459.7 190.7,459.7 190.8,459.6 190.9,459.6 191.0,459.5 191.1,459.4 191.2,459.3 191.3,459.1 191.4,459.0 191.5,458.9 191.6,458.7 191.7,458.5 191.8,458.4 191.9,458.2 192.0,458.0 192.1,457.9 192.2,457.7 192.3,457.5 192.4,457.4 192.5,457.3 192.6,457.2 192.7,457.1 192.8,457.0 192.9,457.0 193.0,457.0 193.1,457.0 193.2,457.1 193.3,457.1 193.4,457.2 193.5,457.4 193.6,457.5 193.7,457.7 193.8,457.8 193.9,458.0 194.0,458.2 194.1,458.3 194.2,458.5 194.3,458.7 194.4,458.8 194.6,459.0 194.7,459.1 194.8,459.2 194.9,459.3 195.0,459.5 195.1,459.5 195.2,459.6 195.3,459.7 195.4,459.7 195.5,459.8 195.6,459.8 195.7,459.9 195.8,459.9 195.9,459.9 196.0,459.9 196.1,460.0 196.2,460.0 196.3,460.0 196.4,460.0 196.5,460.0 196.6,460.0 196.7,460.0 196.8,460.0 196.9,460.0 197.0,459.9 197.1,459.9 197.2,459.9 197.3,459.9 197.4,459.9 197.5,459.8 197.6,459.8 197.7,459.7 197.8,459.7 197.9,459.6 198.0,459.5 198.1,459.4 198.2,459.3 198.3,459.2 198.4,459.1 198.5,458.9 198.6,458.8 198.7,458.6 198.8,458.4 198.9,458.3 199.0,458.1 199.1,457.9 199.2,457.8 199.3,457.6 199.4,457.5 199.5,457.3 199.6,457.2 199.7,457.1 199.8,457.1 199.9,457.0 200.0,457.0 200.1,457.0 200.2,457.1 200.3,457.1 200.4,457.2 200.5,457.3 200.6,457.5 200.7,457.6 200.8,457.8 200.9,457.9 201.0,458.1 201.1,458.3 201.2,458.4 201.3,458.6 201.4,458.8 201.5,458.9 201.6,459.1 201.7,459.2 201.8,459.3 201.9,459.4 202.0,459.5 202.1,459.6 202.2,459.7 202.3,459.7 202.4,459.8 202.5,459.8 202.6,459.9 202.7,459.9 202.8,459.9 202.9,459.9 203.0,459.9 203.1,460.0 203.2,460.0 203.3,460.0 203.4,460.0 203.5,460.0 203.6,460.0 203.7,460.0 203.8,460.0 203.9,460.0 204.0,460.0 204.1,460.0 204.2,460.0 204.3,460.0 204.4,460.0 204.5,460.0 204.6,460.0 204.7,460.0 204.8,460.0 204.9,460.0 205.0,459.9 205.1,459.9 205.2,459.9 205.3,459.9 205.4,459.8 205.6,459.8 205.7,459.7 205.8,459.7 205.9,459.6 206.0,459.5 206.1,459.4 206.2,459.3 206.3,459.2 206.4,459.1 206.5,459.0 206.6,458.8 206.7,458.6 206.8,458.5 206.9,458.3 207.0,458.1 207.1,458.0 207.2,457.8 207.3,457.6 207.4,457.5 207.5,457.4 207.6,457.2 207.7,457.1 207.8,457.1 207.9,457.0 208.0,457.0 208.1,457.0 208.2,457.0 208.3,457.1 208.4,457.2 208.5,457.3 208.6,457.4 208.7,457.5 208.8,457.7 208.9,457.8 209.0,457.9 209.1,458.1 209.2,458.2 209.3,458.3 209.4,458.4 209.5,458.5 209.6,458.6 209.7,458.6 209.8,458.6 209.9,458.6 210.0,458.5 210.1,458.4 210.2,458.2 210.3,458.1 210.4,457.9 210.5,457.6 210.6,457.4 210.7,457.1 210.8,456.8 210.9,456.4 211.0,456.1 211.1,455.8 211.2,455.4 211.3,455.1 211.4,454.9 211.5,454.6 211.6,454.4 211.7,454.2 211.8,454.1 211.9,454.0 212.0,454.0 212.1,454.0 212.2,454.1 212.3,454.3 212.4,454.4 212.5,454.7 212.6,454.9 212.7,455.2 212.8,455.5 212.9,455.9 213.0,456.2 213.1,456.6 213.2,456.9 213.3,457.2 213.4,457.6 213.5,457.9 213.6,458.1 213.7,458.4 213.8,458.6 213.9,458.8 214.0,459.0 214.1,459.2 214.2,459.3 214.3,459.4 214.4,459.4 214.5,459.4 214.6,459.4 214.7,459.4 214.8,459.3 214.9,459.1 215.0,458.9 215.1,458.7 215.2,458.3 215.3,457.9 215.4,457.4 215.5,456.8 215.6,456.1 215.7,455.3 215.8,454.5 215.9,453.5 216.0,452.6 216.1,451.6 216.2,450.5 216.3,449.6 216.4,448.7 216.6,447.8 216.7,447.1 216.8,446.6 216.9,446.2 217.0,446.0 217.1,446.0 217.2,446.2 217.3,446.6 217.4,447.2 217.5,447.9 217.6,448.7 217.7,449.7 217.8,450.6 217.9,451.6 218.0,452.6 218.1,453.6 218.2,454.5 218.3,455.4 218.4,456.2 218.5,456.8 218.6,457.4 218.7,457.9 218.8,458.4 218.9,458.7 219.0,459.0 219.1,459.2 219.2,459.3 219.3,459.4 219.4,459.4 219.5,459.4 219.6,459.4 219.7,459.4 219.8,459.3 219.9,459.1 220.0,459.0 220.1,458.8 220.2,458.6 220.3,458.4 220.4,458.1 220.5,457.8 220.6,457.5 220.7,457.2 220.8,456.9 220.9,456.5 221.0,456.2 221.1,455.8 221.2,455.5 221.3,455.2 221.4,454.9 221.5,454.6 221.6,454.4 221.7,454.2 221.8,454.1 221.9,454.0 222.0,454.0 222.1,454.0 222.2,454.1 222.3,454.2 222.4,454.4 222.5,454.6 222.6,454.9 222.7,455.2 222.8,455.5 222.9,455.8 223.0,456.2 223.1,456.5 223.2,456.9 223.3,457.2 223.4,457.5 223.5,457.8 223.6,458.1 223.7,458.4 223.8,458.6 223.9,458.8 224.0,459.0 224.1,459.2 224.2,459.3 224.3,459.4 224.4,459.5 224.5,459.6 224.6,459.7 224.7,459.7 224.8,459.7 224.9,459.7 225.0,459.7 225.1,459.7 225.2,459.7 225.3,459.6 225.4,459.5 225.5,459.4 225.6,459.3 225.7,459.2 225.8,459.0 225.9,458.8 226.0,458.6 226.1,458.3 226.2,458.0 226.3,457.6 226.4,457.3 226.5,456.9 226.6,456.5 226.7,456.0 226.8,455.6 226.9,455.1 227.0,454.7 227.1,454.2 227.2,453.8 227.3,453.4 227.4,453.0 227.6,452.7 227.7,452.4 227.8,452.2 227.9,452.1 228.0,452.0 228.1,452.0 228.2,452.1 228.3,452.2 228.4,452.4 228.5,452.7 228.6,453.0 228.7,453.4 228.8,453.8 228.9,454.3 229.0,454.7 229.1,455.2 229.2,455.6 229.3,456.1 229.4,456.5 229.5,456.9 229.6,457.3 229.7,457.7 229.8,458.0 229.9,458.3 230.0,458.6 230.1,458.8 230.2,459.0 230.3,459.2 230.4,459.3 230.5,459.5 230.6,459.6 230.7,459.7 230.8,459.7 230.9,459.8 231.0,459.8 231.1,459.9 231.2,459.9 231.3,459.9 231.4,459.9 231.5,459.9 231.6,459.9 231.7,459.9 231.8,459.9 231.9,459.9 232.0,459.9 232.1,459.8 232.2,459.8 232.3,459.7 232.4,459.7 232.5,459.6 232.6,459.5 232.7,459.3 232.8,459.2 232.9,459.0 233.0,458.8 233.1,458.6 233.2,458.3 233.3,458.1 233.4,457.7 233.5,457.4 233.6,457.1 233.7,456.7 233.8,456.3 233.9,455.9 234.0,455.5 234.1,455.1 234.2,454.7 234.3,454.3 234.4,454.0 234.5,453.7 234.6,453.4 234.7,453.2 234.8,453.1 234.9,453.0 235.0,453.0 235.1,453.0 235.2,453.1 235.3,453.3 235.4,453.5 235.5,453.8 235.6,454.1 235.7,454.5 235.8,454.8 235.9,455.2 236.0,455.6 236.1,456.0 236.2,456.4 236.3,456.8 236.4,457.2 236.5,457.5 236.6,457.9 236.7,458.2 236.8,458.4 236.9,458.7 237.0,458.9 237.1,459.1 237.2,459.2 237.3,459.4 237.4,459.5 237.5,459.6 237.6,459.7 237.7,459.8 237.8,459.8 237.9,459.8 238.0,459.9 238.1,459.9 238.2,459.9 238.3,459.9 238.4,459.9 238.6,459.9 238.7,459.9 238.8,459.9 238.9,459.9 239.0,459.9 239.1,459.9 239.2,459.9 239.3,459.8 239.4,459.8 239.5,459.7 239.6,459.6 239.7,459.6 239.8,459.5 239.9,459.3 240.0,459.2 240.1,459.1 240.2,458.9 240.3,458.7 240.4,458.5 240.5,458.2 240.6,458.0 240.7,457.7 240.8,457.4 240.9,457.2 241.0,456.9 241.1,456.6 241.2,456.3 241.3,456.0 241.4,455.8 241.5,455.6 241.6,455.4 241.7,455.2 241.8,455.1 241.9,455.0 242.0,455.0 242.1,455.0 242.2,455.1 242.3,455.2 242.4,455.3 242.5,455.5 242.6,455.7 242.7,455.9 242.8,456.2 242.9,456.5 243.0,456.8 243.1,457.1 243.2,457.3 243.3,457.6 243.4,457.9 243.5,458.1 243.6,458.4 243.7,458.6 243.8,458.8 243.9,459.0 244.0,459.2 244.1,459.3 244.2,459.4 244.3,459.5 244.4,459.6 244.5,459.7 244.6,459.8 244.7,459.8 244.8,459.8 244.9,459.9 245.0,459.9 245.1,459.9 245.2,459.9 245.3,460.0 245.4,460.0 245.5,460.0 245.6,460.0 245.7,460.0 245.8,460.0 245.9,460.0 246.0,460.0 246.1,460.0 246.2,460.0 246.3,460.0 246.4,460.0 246.5,460.0 246.6,460.0 246.7,460.0 246.8,460.0 246.9,460.0 247.0,459.9 247.1,459.9 247.2,459.9 247.3,459.9 247.4,459.8 247.5,459.8 247.6,459.8 247.7,459.7 247.8,459.6 247.9,459.5 248.0,459.5 248.1,459.4 248.2,459.2 248.3,459.1 248.4,459.0 248.5,458.8 248.6,458.7 248.7,458.5 248.8,458.3 248.9,458.2 249.0,458.0 249.1,457.8 249.2,457.7 249.3,457.5 249.4,457.4 249.6,457.3 249.7,457.2 249.8,457.1 249.9,457.0 250.0,457.0 250.1,457.0 250.2,457.0 250.3,457.1 250.4,457.2 250.5,457.3 250.6,457.4 250.7,457.5 250.8,457.7 250.9,457.8 251.0,458.0 251.1,458.2 251.2,458.4 251.3,458.5 251.4,458.7 251.5,458.8 251.6,459.0 251.7,459.1 251.8,459.3 251.9,459.4 252.0,459.5 252.1,459.6 252.2,459.6 252.3,459.7 252.4,459.8 252.5,459.8 252.6,459.8 252.7,459.9 252.8,459.9 252.9,459.9 253.0,459.9 253.1,460.0 253.2,460.0 253.3,460.0 253.4,460.0 253.5,460.0 253.6,460.0 253.7,460.0 253.8,460.0 253.9,460.0 254.0,460.0 254.1,460.0 254.2,460.0 254.3,460.0 254.4,460.0 254.5,460.0 254.6,460.0 254.7,460.0 254.8,460.0 254.9,460.0 255.0,460.0 255.1,460.0 255.2,460.0 255.3,460.0 255.4,460.0 255.5,460.0 255.6,460.0 255.7,460.0 255.8,460.0 255.9,460.0 256.0,460.0 256.1,460.0 256.2,460.0 256.3,460.0 256.4,460.0 256.5,460.0 256.6,460.0 256.7,460.0 256.8,460.0 256.9,460.0 257.0,460.0 257.1,460.0 257.2,460.0 257.3,460.0 257.4,460.0 257.5,460.0 257.6,460.0 257.7,460.0 257.8,460.0 257.9,460.0 258.0,460.0 258.1,460.0 258.2,460.0 258.3,460.0 258.4,460.0 258.5,460.0 258.6,460.0 258.7,460.0 258.8,460.0 258.9,460.0 259.0,460.0 259.1,460.0 259.2,460.0 259.3,460.0 259.4,460.0 259.5,460.0 259.6,460.0 259.7,460.0 259.8,460.0 259.9,460.0 260.0,460.0 260.1,460.0 260.2,460.0 260.3,460.0 260.4,460.0 260.6,460.0 260.7,460.0 260.8,460.0 260.9,460.0 261.0,460.0 261.1,460.0 261.2,460.0 261.3,460.0 261.4,460.0 261.5,460.0 261.6,460.0 261.7,460.0 261.8,460.0 261.9,460.0 262.0,460.0 262.1,460.0 262.2,460.0 262.3,460.0 262.4,460.0 262.5,460.0 262.6,460.0 262.7,460.0 262.8,460.0 262.9,460.0 263.0,460.0 263.1,460.0 263.2,460.0 263.3,460.0 263.4,460.0 263.5,460.0 263.6,460.0 263.7,460.0 263.8,460.0 263.9,460.0 264.0,460.0 264.1,460.0 264.2,460.0 264.3,460.0 264.4,460.0 264.5,460.0 264.6,460.0 264.7,460.0 264.8,460.0 264.9,460.0 265.0,460.0 265.1,460.0 265.2,460.0 265.3,460.0 265.4,460.0 265.5,460.0 265.6,460.0 265.7,460.0 265.8,460.0 265.9,460.0 266.0,460.0 266.1,460.0 266.2,460.0 266.3,460.0 266.4,460.0 266.5,460.0 266.6,460.0 266.7,460.0 266.8,460.0 266.9,460.0 267.0,460.0 267.1,460.0 267.2,460.0 267.3,460.0 267.4,460.0 267.5,460.0 267.6,460.0 267.7,460.0 267.8,460.0 267.9,460.0 268.0,460.0 268.1,460.0 268.2,460.0 268.3,460.0 268.4,460.0 268.5,460.0 268.6,460.0 268.7,460.0 268.8,460.0 268.9,460.0 269.0,460.0 269.1,460.0 269.2,460.0 269.3,460.0 269.4,460.0 269.5,460.0 269.6,460.0 269.7,460.0 269.8,460.0 269.9,460.0 270.0,460.0 270.1,460.0 270.2,460.0 270.3,460.0 270.4,460.0 270.5,460.0 270.6,460.0 270.7,460.0 270.8,460.0 270.9,460.0 271.0,460.0 271.1,460.0 271.2,460.0 271.3,460.0 271.4,460.0 271.6,460.0 271.7,460.0 271.8,460.0 271.9,460.0 272.0,460.0 272.1,460.0 272.2,460.0 272.3,460.0 272.4,460.0 272.5,460.0 272.6,460.0 272.7,460.0 272.8,460.0 272.9,460.0 273.0,460.0 273.1,460.0 273.2,460.0 273.3,460.0 273.4,460.0 273.5,460.0 273.6,460.0 273.7,460.0 273.8,460.0 273.9,460.0 274.0,460.0 274.1,460.0 274.2,460.0 274.3,460.0 274.4,460.0 274.5,460.0 274.6,460.0 274.7,460.0 274.8,460.0 274.9,460.0 275.0,460.0 275.1,460.0 275.2,460.0 275.3,460.0 275.4,460.0 275.5,460.0 275.6,460.0 275.7,460.0 275.8,460.0 275.9,460.0 276.0,460.0 276.1,460.0 276.2,460.0 276.3,460.0 276.4,460.0 276.5,460.0 276.6,460.0 276.7,460.0 276.8,460.0 276.9,460.0 277.0,460.0" fill="none" stroke="#6f9fc9" stroke-width="1.15" stroke-linejoin="round" />
<polyline points="1176.5,200.2 1176.6,207.3 1176.7,200.0 1176.8,175.5 1176.9,208.6 1176.9,201.7 1177.0,186.9 1177.1,203.7 1177.2,200.5 1177.3,199.4 1177.4,195.4 1177.5,203.2 1177.6,184.0 1177.7,192.6 1177.7,187.8 1177.8,204.0 1177.9,195.6 1178.0,190.6 1178.1,183.3 1178.2,191.1 1178.3,195.1 1178.4,190.9 1178.5,214.4 1178.5,210.1 1178.6,154.3 1178.7,166.7 1178.8,192.4 1178.9,188.7 1179.0,198.2 1179.1,198.3 1179.2,226.8 1179.3,178.3 1179.3,189.3 1179.4,225.6 1179.5,204.7 1179.6,204.9 1179.7,187.3 1179.8,170.3 1179.9,197.5 1180.0,196.6 1180.1,176.6 1180.1,184.8 1180.2,193.9 1180.3,180.8 1180.4,193.5 1180.5,196.4 1180.6,195.5 1180.7,187.4 1180.8,203.9 1180.9,208.4 1180.9,199.8 1181.0,182.7 1181.1,206.0 1181.2,187.5 1181.3,208.2 1181.4,178.9 1181.5,208.7 1181.6,194.7 1181.7,176.3 1181.8,190.3 1181.8,195.8 1181.9,199.1 1182.0,180.3 1182.1,178.4 1182.2,198.0 1182.3,188.0 1182.4,198.5 1182.5,206.4 1182.6,170.3 1182.6,198.8 1182.7,213.4 1182.8,190.5 1182.9,182.8 1183.0,206.3 1183.1,198.8 1183.2,208.4 1183.3,189.8 1183.4,172.8 1183.4,193.3 1183.5,188.3 1183.6,206.6 1183.7,197.9 1183.8,170.5 1183.9,177.1 1184.0,208.3 1184.1,205.2 1184.2,185.4 1184.2,195.0 1184.3,201.7 1184.4,202.0 1184.5,208.1 1184.6,198.8 1184.7,193.6 1184.8,191.1 1184.9,210.8 1185.0,161.2 1185.0,192.9 1185.1,195.5 1185.2,173.6 1185.3,200.0 1185.4,185.2 1185.5,207.9 1185.6,193.1 1185.7,205.0 1185.8,213.3 1185.8,200.7 1185.9,181.9 1186.0,172.3 1186.1,221.3 1186.2,193.3 1186.3,184.7 1186.4,197.2 1186.5,192.1 1186.6,207.8 1186.6,195.5 1186.7,195.2 1186.8,184.3 1186.9,202.0 1187.0,179.5 1187.1,205.0 1187.2,217.9 1187.3,172.1 1187.4,158.0 1187.4,204.3 1187.5,233.2 1187.6,180.0 1187.7,176.2 1187.8,203.8 1187.9,182.4 1188.0,187.4 1188.1,189.8 1188.2,203.0 1188.2,188.9 1188.3,199.2 1188.4,192.4 1188.5,182.3 1188.6,190.2 1188.7,180.7 1188.8,195.1 1188.9,178.1 1189.0,178.6 1189.0,216.9 1189.1,194.2 1189.2,194.2 1189.3,202.7 1189.4,188.7 1189.5,191.6 1189.6,201.4 1189.7,199.2 1189.8,177.6 1189.8,207.5 1189.9,186.1 1190.0,179.2 1190.1,181.5 1190.2,189.1 1190.3,219.4 1190.4,177.4 1190.5,197.4 1190.6,162.9 1190.6,195.0 1190.7,208.5 1190.8,191.5 1190.9,185.6 1191.0,198.5 1191.1,205.5 1191.2,205.0 1191.3,224.6 1191.4,198.1 1191.5,186.1 1191.5,193.1 1191.6,193.9 1191.7,196.6 1191.8,194.5 1191.9,197.6 1192.0,169.9 1192.1,207.4 1192.2,186.4 1192.3,177.4 1192.3,204.6 1192.4,214.8 1192.5,202.4 1192.6,197.4 1192.7,181.0 1192.8,238.1 1192.9,208.2 1193.0,177.9 1193.1,183.3 1193.1,196.3 1193.2,171.7 1193.3,197.5 1193.4,188.1 1193.5,213.4 1193.6,209.4 1193.7,154.3 1193.8,195.6 1193.9,170.7 1193.9,211.6 1194.0,197.5 1194.1,203.2 1194.2,179.0 1194.3,222.4 1194.4,225.3 1194.5,179.0 1194.6,200.6 1194.7,184.9 1194.7,194.6 1194.8,176.0 1194.9,223.0 1195.0,180.5 1195.1,190.6 1195.2,202.5 1195.3,185.3 1195.4,191.4 1195.5,186.5 1195.5,193.0 1195.6,177.4 1195.7,188.4 1195.8,191.9 1195.9,190.0 1196.0,195.9 1196.1,190.6 1196.2,206.3 1196.3,190.2 1196.3,193.0 1196.4,185.0 1196.5,187.1 1196.6,176.0 1196.7,202.8 1196.8,177.9 1196.9,183.8 1197.0,200.4 1197.1,201.0 1197.1,189.0 1197.2,164.7 1197.3,201.3 1197.4,198.9 1197.5,173.8 1197.6,206.6 1197.7,184.5 1197.8,178.1 1197.9,196.4 1197.9,192.3 1198.0,198.0 1198.1,170.9 1198.2,222.2 1198.3,186.0 1198.4,171.9 1198.5,204.3 1198.6,189.7 1198.7,199.9 1198.7,189.9 1198.8,194.1 1198.9,198.7 1199.0,183.8 1199.1,205.2 1199.2,188.0 1199.3,182.0 1199.4,196.2 1199.5,201.7 1199.5,191.6 1199.6,182.1 1199.7,204.3 1199.8,168.6 1199.9,179.5 1200.0,195.6 1200.1,174.6 1200.2,195.4 1200.3,194.2 1200.3,208.5 1200.4,181.3 1200.5,185.6 1200.6,200.0 1200.7,158.1 1200.8,241.0 1200.9,184.5 1201.0,184.1 1201.1,207.9 1201.2,194.4 1201.2,168.3 1201.3,204.4 1201.4,207.8 1201.5,188.3 1201.6,190.8 1201.7,202.3 1201.8,181.4 1201.9,201.6 1202.0,198.0 1202.0,184.9 1202.1,174.1 1202.2,191.6 1202.3,181.9 1202.4,210.0 1202.5,197.2 1202.6,206.7 1202.7,197.0 1202.8,198.9 1202.8,183.3 1202.9,205.0 1203.0,221.8 1203.1,190.4 1203.2,186.1 1203.3,192.6 1203.4,187.8 1203.5,184.5 1203.6,197.1 1203.6,190.6 1203.7,216.6 1203.8,195.0 1203.9,199.9 1204.0,209.3 1204.1,190.5 1204.2,216.6 1204.3,185.5 1204.4,182.9 1204.4,189.5 1204.5,193.3 1204.6,174.0 1204.7,194.5 1204.8,170.0 1204.9,215.9 1205.0,193.8 1205.1,185.4 1205.2,181.4 1205.2,189.2 1205.3,191.7 1205.4,179.3 1205.5,181.2 1205.6,192.2 1205.7,187.2 1205.8,209.1 1205.9,212.1 1206.0,195.2 1206.0,202.1 1206.1,175.0 1206.2,204.6 1206.3,194.5 1206.4,202.3 1206.5,219.0 1206.6,160.8 1206.7,198.9 1206.8,178.5 1206.8,203.9 1206.9,175.3 1207.0,187.6 1207.1,198.0 1207.2,204.2 1207.3,196.1 1207.4,183.1 1207.5,186.7 1207.6,208.3 1207.6,194.9 1207.7,169.7 1207.8,207.7 1207.9,201.2 1208.0,208.1 1208.1,190.0 1208.2,207.4 1208.3,179.1 1208.4,203.5 1208.4,187.6 1208.5,205.1 1208.6,210.1 1208.7,184.0 1208.8,194.2 1208.9,195.6 1209.0,212.8 1209.1,205.7 1209.2,176.7 1209.2,201.9 1209.3,206.2 1209.4,226.9 1209.5,169.8 1209.6,187.0 1209.7,215.0 1209.8,174.7 1209.9,177.0 1210.0,202.8 1210.1,210.3 1210.1,185.0 1210.2,203.1 1210.3,196.8 1210.4,217.8 1210.5,195.0 1210.6,209.9 1210.7,181.5 1210.8,192.2 1210.9,193.5 1210.9,212.1 1211.0,203.7 1211.1,183.7 1211.2,205.2 1211.3,206.6 1211.4,193.3 1211.5,191.1 1211.6,192.1 1211.7,169.6 1211.7,197.8 1211.8,198.5 1211.9,182.0 1212.0,206.1 1212.1,174.4 1212.2,186.7 1212.3,187.9 1212.4,224.8 1212.5,171.0 1212.5,203.4 1212.6,209.1 1212.7,200.7 1212.8,212.7 1212.9,180.0 1213.0,160.8 1213.1,206.5 1213.2,177.1 1213.3,190.1 1213.3,177.3 1213.4,210.8 1213.5,208.0 1213.6,184.2 1213.7,208.6 1213.8,196.8 1213.9,192.9 1214.0,195.9 1214.1,192.0 1214.1,204.2 1214.2,199.7 1214.3,189.8 1214.4,210.1 1214.5,185.8 1214.6,199.3 1214.7,201.3 1214.8,217.2 1214.9,187.4 1214.9,221.1 1215.0,197.6 1215.1,192.1 1215.2,184.9 1215.3,203.8 1215.4,195.7 1215.5,178.4 1215.6,178.1 1215.7,186.7 1215.7,184.9 1215.8,211.4 1215.9,215.6 1216.0,208.0 1216.1,200.4 1216.2,188.6 1216.3,195.8 1216.4,208.3 1216.5,227.0 1216.5,208.7 1216.6,190.8 1216.7,195.6 1216.8,187.8 1216.9,183.3 1217.0,192.2 1217.1,197.9 1217.2,222.5 1217.3,195.8 1217.3,215.4 1217.4,221.5 1217.5,196.2 1217.6,219.1 1217.7,205.7 1217.8,188.7 1217.9,199.0 1218.0,195.3 1218.1,191.5 1218.1,192.0 1218.2,197.2 1218.3,201.5 1218.4,181.7 1218.5,194.9 1218.6,172.2 1218.7,198.9 1218.8,204.4 1218.9,197.5 1218.9,199.3 1219.0,203.8 1219.1,185.0 1219.2,191.4 1219.3,202.7 1219.4,210.0 1219.5,200.9 1219.6,233.3 1219.7,193.6 1219.8,210.0 1219.8,214.0 1219.9,193.0 1220.0,182.7 1220.1,177.3 1220.2,197.4 1220.3,211.7 1220.4,199.1 1220.5,197.6 1220.6,189.3 1220.6,203.4 1220.7,163.0 1220.8,198.5 1220.9,195.4 1221.0,174.4 1221.1,227.6 1221.2,174.2 1221.3,178.8 1221.4,177.0 1221.4,211.7 1221.5,181.7 1221.6,205.0 1221.7,203.8 1221.8,198.9 1221.9,175.4 1222.0,185.8 1222.1,220.1 1222.2,175.6 1222.2,182.5 1222.3,192.6 1222.4,207.1 1222.5,198.8 1222.6,206.1 1222.7,179.0 1222.8,209.2 1222.9,203.5 1223.0,171.1 1223.0,218.1 1223.1,229.4 1223.2,183.5 1223.3,195.8 1223.4,216.0 1223.5,172.8 1223.6,165.2 1223.7,175.5 1223.8,186.5 1223.8,186.3 1223.9,204.1 1224.0,199.0 1224.1,176.3 1224.2,203.5 1224.3,223.1 1224.4,213.0 1224.5,209.9 1224.6,195.3 1224.6,209.8 1224.7,180.5 1224.8,206.3 1224.9,193.7 1225.0,212.0 1225.1,202.0 1225.2,178.7 1225.3,196.9 1225.4,213.3 1225.4,178.1 1225.5,186.6 1225.6,183.5 1225.7,172.6 1225.8,209.4 1225.9,214.7 1226.0,207.0 1226.1,198.6 1226.2,194.2 1226.2,198.6 1226.3,184.0 1226.4,208.4 1226.5,210.7 1226.6,209.0 1226.7,187.0 1226.8,196.2 1226.9,192.5 1227.0,221.8 1227.0,197.7 1227.1,166.8 1227.2,201.0 1227.3,223.2 1227.4,205.3 1227.5,208.2 1227.6,195.5 1227.7,165.4 1227.8,167.8 1227.8,176.3 1227.9,193.1 1228.0,199.6 1228.1,205.3 1228.2,189.9 1228.3,209.4 1228.4,190.8 1228.5,184.4 1228.6,207.8 1228.6,181.3 1228.7,154.1 1228.8,179.1 1228.9,196.4 1229.0,149.0 1229.1,189.6 1229.2,190.0 1229.3,173.6 1229.4,172.8 1229.5,188.1 1229.5,186.8 1229.6,213.9 1229.7,200.6 1229.8,171.3 1229.9,182.2 1230.0,205.6 1230.1,223.4 1230.2,200.8 1230.3,199.7 1230.3,222.9 1230.4,194.7 1230.5,190.4 1230.6,173.8 1230.7,187.3 1230.8,227.7 1230.9,173.7 1231.0,195.2 1231.1,173.9 1231.1,196.9 1231.2,208.3 1231.3,191.3 1231.4,206.0 1231.5,205.8 1231.6,201.7 1231.7,220.7 1231.8,206.7 1231.9,190.4 1231.9,184.8 1232.0,182.3 1232.1,202.1 1232.2,190.1 1232.3,235.9 1232.4,222.6 1232.5,191.8 1232.6,190.1 1232.7,220.4 1232.7,166.7 1232.8,188.2 1232.9,209.3 1233.0,181.3 1233.1,187.8 1233.2,189.7 1233.3,204.9 1233.4,197.1 1233.5,201.0 1233.5,203.9 1233.6,195.4 1233.7,211.7 1233.8,184.1 1233.9,173.5 1234.0,168.3 1234.1,170.7 1234.2,186.7 1234.3,210.5 1234.3,197.6 1234.4,186.0 1234.5,179.0 1234.6,187.1 1234.7,188.9 1234.8,186.5 1234.9,173.5 1235.0,187.9 1235.1,210.3 1235.1,162.4 1235.2,191.4 1235.3,163.2 1235.4,197.7 1235.5,183.8 1235.6,163.7 1235.7,196.5 1235.8,222.3 1235.9,196.6 1235.9,212.4 1236.0,193.9 1236.1,162.6 1236.2,202.4 1236.3,188.7 1236.4,173.1 1236.5,206.8 1236.6,199.3 1236.7,187.1 1236.7,208.0 1236.8,181.9 1236.9,204.7 1237.0,180.9 1237.1,203.0 1237.2,178.5 1237.3,217.3 1237.4,198.8 1237.5,216.5 1237.5,182.7 1237.6,187.9 1237.7,207.6 1237.8,153.8 1237.9,179.0 1238.0,210.5 1238.1,202.0 1238.2,209.7 1238.3,190.4 1238.3,203.5 1238.4,184.0 1238.5,174.4 1238.6,169.6 1238.7,186.7 1238.8,186.8 1238.9,185.6 1239.0,149.0 1239.1,165.0 1239.2,187.0 1239.2,199.3 1239.3,186.3 1239.4,181.8 1239.5,160.4 1239.6,225.3 1239.7,178.5 1239.8,220.3 1239.9,218.4 1240.0,199.1 1240.0,186.4 1240.1,197.0 1240.2,177.7 1240.3,198.9 1240.4,195.0 1240.5,203.0 1240.6,209.3 1240.7,221.0 1240.8,189.2 1240.8,210.7 1240.9,183.1 1241.0,181.6 1241.1,185.7 1241.2,180.3 1241.3,209.7 1241.4,208.8 1241.5,214.1 1241.6,194.6 1241.6,199.1 1241.7,186.3 1241.8,177.7 1241.9,201.7 1242.0,199.0 1242.1,178.4 1242.2,203.8 1242.3,168.9 1242.4,192.3 1242.4,185.5 1242.5,187.1 1242.6,178.7 1242.7,209.3 1242.8,203.5 1242.9,212.8 1243.0,197.0 1243.1,175.5 1243.2,189.3 1243.2,177.1 1243.3,201.7 1243.4,213.0 1243.5,199.7 1243.6,185.8 1243.7,189.3 1243.8,197.9 1243.9,173.1 1244.0,197.0 1244.0,197.8 1244.1,186.6 1244.2,188.5 1244.3,197.3 1244.4,182.4 1244.5,182.4 1244.6,206.4 1244.7,198.1 1244.8,219.9 1244.8,179.9 1244.9,168.0 1245.0,208.8 1245.1,209.0 1245.2,183.6 1245.3,172.6 1245.4,193.9 1245.5,168.3 1245.6,189.5 1245.6,161.8 1245.7,191.0 1245.8,162.7 1245.9,191.0 1246.0,217.3 1246.1,190.5 1246.2,206.0 1246.3,184.8 1246.4,181.1 1246.4,172.0 1246.5,210.0 1246.6,193.5 1246.7,218.7 1246.8,176.7 1246.9,191.0 1247.0,195.5 1247.1,215.5 1247.2,221.7 1247.2,184.6 1247.3,177.3 1247.4,168.2 1247.5,214.3 1247.6,193.0 1247.7,184.5 1247.8,193.5 1247.9,155.9 1248.0,168.4 1248.0,208.3 1248.1,200.2 1248.2,196.5 1248.3,179.2 1248.4,203.0 1248.5,220.9 1248.6,175.8 1248.7,194.4 1248.8,187.7 1248.9,199.6 1248.9,194.4 1249.0,192.0 1249.1,181.0 1249.2,194.0 1249.3,185.0 1249.4,192.0 1249.5,193.2 1249.6,204.0 1249.7,185.5 1249.7,189.3 1249.8,210.3 1249.9,190.9 1250.0,190.3 1250.1,207.2 1250.2,198.3 1250.3,195.6 1250.4,197.5 1250.5,175.6 1250.5,201.1 1250.6,214.1 1250.7,202.9 1250.8,170.9 1250.9,198.5 1251.0,180.7 1251.1,190.9 1251.2,196.3 1251.3,176.4 1251.3,214.4 1251.4,193.3 1251.5,206.3 1251.6,203.9 1251.7,214.6 1251.8,212.3 1251.9,172.3 1252.0,195.1 1252.1,162.4 1252.1,187.7 1252.2,205.2 1252.3,208.2 1252.4,213.8 1252.5,188.8 1252.6,199.3 1252.7,196.0 1252.8,213.5 1252.9,218.3 1252.9,189.1 1253.0,241.0 1253.1,194.5 1253.2,189.0 1253.3,203.5 1253.4,205.9 1253.5,202.7 1253.6,184.8 1253.7,216.7 1253.7,195.4 1253.8,217.7 1253.9,215.5 1254.0,175.5 1254.1,179.9 1254.2,179.6 1254.3,198.4 1254.4,195.5 1254.5,198.7 1254.5,182.5 1254.6,201.1 1254.7,215.8 1254.8,174.7 1254.9,191.8 1255.0,198.5 1255.1,192.8 1255.2,191.8 1255.3,221.3 1255.3,214.0 1255.4,207.5 1255.5,183.3 1255.6,228.4 1255.7,200.2 1255.8,186.1 1255.9,189.7 1256.0,187.4 1256.1,226.6 1256.1,197.9 1256.2,195.7 1256.3,162.5 1256.4,205.9 1256.5,178.9 1256.6,177.9 1256.7,204.0 1256.8,181.9 1256.9,207.3 1256.9,211.6 1257.0,168.0 1257.1,192.8 1257.2,171.2 1257.3,193.9 1257.4,208.5 1257.5,174.3 1257.6,221.8 1257.7,190.1 1257.7,177.0 1257.8,192.9 1257.9,206.7 1258.0,174.1 1258.1,194.8 1258.2,174.2 1258.3,212.8 1258.4,197.1 1258.5,188.4 1258.6,210.3 1258.6,175.4 1258.7,188.8 1258.8,222.4 1258.9,192.9 1259.0,215.1 1259.1,197.6 1259.2,184.2 1259.3,191.0 1259.4,195.9 1259.4,188.5 1259.5,182.3 1259.6,183.0 1259.7,172.4 1259.8,196.3 1259.9,200.6 1260.0,205.9 1260.1,167.6 1260.2,206.8 1260.2,194.4 1260.3,173.2 1260.4,196.1 1260.5,206.9 1260.6,202.5 1260.7,205.5 1260.8,208.9 1260.9,208.1 1261.0,194.1 1261.0,163.4 1261.1,183.3 1261.2,200.0 1261.3,187.6 1261.4,205.0 1261.5,206.7 1261.6,195.4 1261.7,222.9 1261.8,180.1 1261.8,208.7 1261.9,187.6 1262.0,183.0 1262.1,203.5 1262.2,185.5 1262.3,207.6 1262.4,177.2 1262.5,195.2 1262.6,182.1 1262.6,191.2 1262.7,189.1 1262.8,177.8 1262.9,204.5 1263.0,176.0 1263.1,180.0 1263.2,208.1 1263.3,209.3 1263.4,204.7 1263.4,199.8 1263.5,228.9 1263.6,176.6 1263.7,183.6 1263.8,179.8 1263.9,208.2 1264.0,199.1 1264.1,211.4 1264.2,209.3 1264.2,191.4 1264.3,182.5 1264.4,179.9 1264.5,227.9 1264.6,209.3 1264.7,203.7 1264.8,189.7 1264.9,191.8 1265.0,189.6 1265.0,189.9 1265.1,158.7 1265.2,193.9 1265.3,189.0 1265.4,199.1 1265.5,197.9 1265.6,207.6 1265.7,194.6 1265.8,206.7 1265.8,156.4 1265.9,178.3 1266.0,220.7 1266.1,176.5 1266.2,190.6 1266.3,205.4 1266.4,181.5 1266.5,205.6 1266.6,173.4 1266.6,166.1 1266.7,174.8 1266.8,170.0 1266.9,194.5 1267.0,190.0 1267.1,199.7 1267.2,179.3 1267.3,232.9 1267.4,193.4 1267.4,194.1 1267.5,201.6 1267.6,191.1 1267.7,185.3 1267.8,196.1 1267.9,208.6 1268.0,204.8 1268.1,208.9 1268.2,186.3 1268.3,183.2 1268.3,224.9 1268.4,191.2 1268.5,202.0 1268.6,205.9 1268.7,216.1 1268.8,174.6 1268.9,187.6 1269.0,188.3 1269.1,190.3 1269.1,158.6 1269.2,193.4 1269.3,151.4 1269.4,199.3 1269.5,202.9 1269.6,203.8 1269.7,176.8 1269.8,209.2 1269.9,181.9 1269.9,176.4 1270.0,180.2 1270.1,182.1 1270.2,197.5 1270.3,207.2 1270.4,163.3 1270.5,186.8 1270.6,208.4 1270.7,197.9 1270.7,202.5 1270.8,172.4 1270.9,209.2 1271.0,171.5 1271.1,197.9 1271.2,215.4 1271.3,223.2 1271.4,202.7 1271.5,208.2 1271.5,185.9 1271.6,187.8 1271.7,212.5 1271.8,195.0 1271.9,193.1 1272.0,173.8 1272.1,197.3 1272.2,204.7 1272.3,183.1 1272.3,187.4 1272.4,218.7 1272.5,197.7 1272.6,190.7 1272.7,177.9 1272.8,185.7 1272.9,191.3 1273.0,215.5 1273.1,185.8 1273.1,221.9 1273.2,181.1 1273.3,189.6 1273.4,207.7 1273.5,191.4 1273.6,182.5 1273.7,193.0 1273.8,201.7 1273.9,169.3 1273.9,191.3 1274.0,193.4 1274.1,188.9 1274.2,206.0 1274.3,186.5 1274.4,189.5 1274.5,195.6 1274.6,205.9 1274.7,191.7 1274.7,217.7 1274.8,181.4 1274.9,214.3 1275.0,182.1 1275.1,192.6 1275.2,200.5 1275.3,225.8 1275.4,208.4 1275.5,188.9 1275.5,214.5 1275.6,191.8 1275.7,183.1 1275.8,201.7 1275.9,196.4 1276.0,209.3 1276.1,186.8 1276.2,200.7 1276.3,204.5 1276.3,199.2 1276.4,194.6 1276.5,184.5 1276.6,208.6 1276.7,197.1 1276.8,202.4 1276.9,189.7 1277.0,195.2 1277.1,179.4 1277.2,196.3 1277.2,206.5 1277.3,196.4 1277.4,207.9 1277.5,199.7 1277.6,215.5 1277.7,192.1 1277.8,170.4 1277.9,201.5 1278.0,192.5 1278.0,180.4 1278.1,204.8 1278.2,199.0 1278.3,201.7 1278.4,190.0 1278.5,198.0 1278.6,198.8 1278.7,221.6 1278.8,184.7 1278.8,194.8 1278.9,200.5 1279.0,169.1 1279.1,171.0 1279.2,227.5 1279.3,168.5 1279.4,203.6 1279.5,182.3 1279.6,183.6 1279.6,165.3 1279.7,181.5 1279.8,206.8 1279.9,174.2 1280.0,203.9 1280.1,199.7 1280.2,225.3 1280.3,187.9 1280.4,214.0 1280.4,208.3 1280.5,190.7 1280.6,170.1 1280.7,217.6 1280.8,174.5 1280.9,187.9 1281.0,208.2 1281.1,211.7 1281.2,182.3 1281.2,194.5 1281.3,191.1 1281.4,212.7 1281.5,232.6 1281.6,167.6 1281.7,208.7 1281.8,152.1 1281.9,195.2 1282.0,178.4 1282.0,224.9 1282.1,197.5 1282.2,183.9 1282.3,187.5 1282.4,186.4 1282.5,197.8 1282.6,192.6 1282.7,204.8 1282.8,218.1 1282.8,205.5 1282.9,176.6 1283.0,170.6 1283.1,183.7 1283.2,210.8 1283.3,190.0 1283.4,185.0 1283.5,197.1 1283.6,173.8 1283.6,177.9 1283.7,202.7 1283.8,190.5 1283.9,188.2 1284.0,199.8 1284.1,186.2 1284.2,184.7 1284.3,188.1 1284.4,204.0 1284.4,195.9 1284.5,177.1 1284.6,190.5 1284.7,204.7 1284.8,223.1 1284.9,177.9 1285.0,200.1 1285.1,191.1 1285.2,207.4 1285.2,201.7 1285.3,217.1 1285.4,202.8 1285.5,186.8 1285.6,186.9 1285.7,201.1 1285.8,200.9 1285.9,231.0 1286.0,220.1 1286.0,177.4 1286.1,200.3 1286.2,175.0 1286.3,170.2 1286.4,206.2 1286.5,203.3 1286.6,179.4 1286.7,219.7 1286.8,180.3 1286.9,177.5 1286.9,204.8 1287.0,198.3 1287.1,192.6 1287.2,194.0 1287.3,198.4 1287.4,192.9 1287.5,192.4 1287.6,166.6 1287.7,174.9 1287.7,204.2 1287.8,184.4 1287.9,203.2 1288.0,213.5 1288.1,189.7 1288.2,199.2 1288.3,226.1 1288.4,205.4 1288.5,222.6 1288.5,218.0 1288.6,206.3 1288.7,193.3 1288.8,182.4 1288.9,178.3 1289.0,202.3 1289.1,202.0 1289.2,192.4 1289.3,207.7 1289.3,185.9 1289.4,211.7 1289.5,195.6 1289.6,194.5 1289.7,195.0 1289.8,193.5 1289.9,232.3 1290.0,170.8 1290.1,197.7 1290.1,213.7 1290.2,205.8 1290.3,190.5 1290.4,221.1 1290.5,179.0 1290.6,175.4 1290.7,203.5 1290.8,173.2 1290.9,159.3 1290.9,208.2 1291.0,206.4 1291.1,206.0 1291.2,187.7 1291.3,197.7 1291.4,180.5 1291.5,221.0 1291.6,206.9 1291.7,206.1 1291.7,165.8 1291.8,207.1 1291.9,217.4 1292.0,213.2 1292.1,206.8 1292.2,195.0 1292.3,189.9 1292.4,204.0 1292.5,200.7 1292.5,198.5 1292.6,190.4 1292.7,220.2 1292.8,177.5 1292.9,194.7 1293.0,186.3 1293.1,210.5 1293.2,216.5 1293.3,213.7 1293.3,206.3 1293.4,174.0 1293.5,226.2 1293.6,202.8 1293.7,193.4 1293.8,195.3 1293.9,189.9 1294.0,201.4 1294.1,199.7 1294.1,189.6 1294.2,156.5 1294.3,194.5 1294.4,202.2 1294.5,202.9 1294.6,192.7 1294.7,201.8 1294.8,210.4 1294.9,187.9 1294.9,217.0 1295.0,165.7 1295.1,176.1 1295.2,181.4 1295.3,158.3 1295.4,180.0 1295.5,213.7 1295.6,213.6 1295.7,196.5 1295.7,220.8 1295.8,198.6 1295.9,187.5 1296.0,198.6 1296.1,192.9 1296.2,206.0 1296.3,172.5 1296.4,210.0 1296.5,188.1 1296.6,207.8 1296.6,171.9 1296.7,188.7 1296.8,196.2 1296.9,208.5 1297.0,176.7 1297.1,220.0 1297.2,202.2 1297.3,187.1 1297.4,213.3 1297.4,196.5 1297.5,212.4 1297.6,229.8 1297.7,206.5 1297.8,187.1 1297.9,188.6 1298.0,203.7 1298.1,199.3 1298.2,182.5 1298.2,185.0 1298.3,205.0 1298.4,230.2 1298.5,155.5 1298.6,205.9 1298.7,191.8 1298.8,206.7 1298.9,208.0 1299.0,195.8 1299.0,179.8 1299.1,174.0 1299.2,166.9 1299.3,213.3 1299.4,191.9 1299.5,186.9 1299.6,190.8 1299.7,174.9 1299.8,199.6 1299.8,214.8 1299.9,212.1 1300.0,171.5 1300.1,215.5 1300.2,183.5 1300.3,166.3 1300.4,176.6 1300.5,180.5 1300.6,194.9 1300.6,179.5 1300.7,172.3 1300.8,191.0 1300.9,223.9 1301.0,184.5" fill="none" stroke="#2a7bbf" stroke-width="0.75" stroke-linejoin="round" />
<polyline points="1176.5,416.2 1176.6,405.6 1176.7,407.2 1176.8,376.8 1176.9,440.4 1176.9,430.6 1177.0,408.5 1177.1,425.0 1177.2,417.6 1177.3,405.1 1177.4,428.1 1177.5,408.7 1177.6,408.5 1177.7,401.5 1177.7,420.2 1177.8,411.9 1177.9,421.6 1178.0,404.3 1178.1,415.3 1178.2,400.0 1178.3,426.0 1178.4,416.2 1178.5,418.4 1178.5,419.6 1178.6,398.2 1178.7,425.1 1178.8,444.3 1178.9,388.8 1179.0,387.5 1179.1,390.8 1179.2,426.0 1179.3,415.3 1179.3,429.6 1179.4,424.2 1179.5,416.6 1179.6,417.7 1179.7,410.9 1179.8,426.4 1179.9,396.5 1180.0,407.1 1180.1,417.0 1180.1,440.4 1180.2,401.9 1180.3,397.2 1180.4,405.0 1180.5,427.9 1180.6,409.9 1180.7,433.3 1180.8,385.3 1180.9,430.3 1180.9,428.9 1181.0,392.1 1181.1,415.7 1181.2,431.6 1181.3,414.7 1181.4,428.4 1181.5,449.0 1181.6,417.5 1181.7,409.2 1181.8,401.8 1181.8,423.1 1181.9,410.4 1182.0,410.7 1182.1,411.8 1182.2,423.1 1182.3,397.4 1182.4,390.5 1182.5,376.9 1182.6,431.4 1182.6,414.5 1182.7,436.1 1182.8,413.3 1182.9,402.3 1183.0,420.6 1183.1,412.3 1183.2,394.6 1183.3,400.1 1183.4,439.9 1183.4,418.7 1183.5,419.6 1183.6,409.3 1183.7,403.1 1183.8,426.8 1183.9,411.8 1184.0,402.0 1184.1,411.4 1184.2,399.8 1184.2,416.3 1184.3,430.3 1184.4,400.9 1184.5,434.8 1184.6,403.4 1184.7,415.7 1184.8,400.9 1184.9,410.1 1185.0,414.1 1185.0,406.9 1185.1,402.9 1185.2,403.2 1185.3,401.1 1185.4,389.8 1185.5,409.5 1185.6,419.4 1185.7,427.0 1185.8,423.1 1185.8,450.3 1185.9,418.2 1186.0,406.6 1186.1,441.5 1186.2,397.7 1186.3,427.9 1186.4,399.1 1186.5,418.7 1186.6,383.9 1186.6,426.9 1186.7,411.0 1186.8,398.9 1186.9,438.6 1187.0,424.9 1187.1,414.1 1187.2,402.2 1187.3,412.7 1187.4,410.9 1187.4,424.3 1187.5,425.4 1187.6,403.4 1187.7,405.2 1187.8,405.4 1187.9,393.2 1188.0,404.5 1188.1,412.0 1188.2,423.8 1188.2,433.2 1188.3,401.3 1188.4,421.7 1188.5,406.7 1188.6,444.5 1188.7,412.7 1188.8,420.9 1188.9,399.4 1189.0,401.2 1189.0,416.4 1189.1,407.6 1189.2,418.7 1189.3,390.0 1189.4,423.3 1189.5,399.9 1189.6,439.2 1189.7,409.1 1189.8,429.9 1189.8,392.5 1189.9,419.8 1190.0,400.1 1190.1,406.1 1190.2,413.8 1190.3,408.6 1190.4,417.4 1190.5,424.6 1190.6,423.2 1190.6,412.1 1190.7,392.9 1190.8,401.3 1190.9,410.5 1191.0,381.6 1191.1,424.7 1191.2,409.8 1191.3,409.6 1191.4,427.6 1191.5,423.4 1191.5,416.7 1191.6,398.4 1191.7,418.1 1191.8,418.6 1191.9,400.1 1192.0,429.0 1192.1,421.0 1192.2,383.9 1192.3,415.2 1192.3,394.4 1192.4,430.4 1192.5,425.5 1192.6,396.8 1192.7,400.1 1192.8,414.9 1192.9,409.8 1193.0,436.3 1193.1,424.5 1193.1,409.2 1193.2,422.1 1193.3,382.9 1193.4,418.0 1193.5,426.4 1193.6,410.7 1193.7,402.7 1193.8,421.9 1193.9,442.8 1193.9,416.5 1194.0,396.6 1194.1,435.1 1194.2,385.2 1194.3,420.9 1194.4,404.7 1194.5,427.4 1194.6,400.7 1194.7,433.3 1194.7,417.9 1194.8,387.5 1194.9,383.8 1195.0,408.7 1195.1,432.8 1195.2,415.3 1195.3,414.4 1195.4,409.9 1195.5,424.5 1195.5,419.1 1195.6,417.6 1195.7,398.6 1195.8,431.2 1195.9,433.8 1196.0,393.9 1196.1,447.9 1196.2,424.2 1196.3,406.1 1196.3,384.8 1196.4,423.3 1196.5,421.8 1196.6,404.5 1196.7,386.5 1196.8,430.3 1196.9,404.6 1197.0,406.3 1197.1,456.1 1197.1,445.3 1197.2,427.7 1197.3,406.6 1197.4,423.1 1197.5,379.2 1197.6,415.0 1197.7,402.0 1197.8,394.1 1197.9,389.7 1197.9,421.3 1198.0,414.7 1198.1,415.8 1198.2,426.0 1198.3,400.7 1198.4,394.9 1198.5,386.8 1198.6,408.4 1198.7,424.8 1198.7,411.2 1198.8,423.0 1198.9,395.7 1199.0,406.4 1199.1,401.9 1199.2,394.7 1199.3,441.3 1199.4,426.2 1199.5,402.0 1199.5,401.9 1199.6,412.5 1199.7,391.8 1199.8,419.9 1199.9,394.0 1200.0,407.8 1200.1,398.0 1200.2,406.2 1200.3,393.4 1200.3,389.8 1200.4,398.9 1200.5,403.2 1200.6,409.0 1200.7,414.4 1200.8,436.3 1200.9,425.6 1201.0,409.6 1201.1,424.3 1201.2,403.1 1201.2,435.1 1201.3,421.6 1201.4,393.1 1201.5,424.7 1201.6,425.6 1201.7,373.1 1201.8,402.2 1201.9,406.3 1202.0,384.5 1202.0,397.4 1202.1,399.2 1202.2,421.0 1202.3,417.9 1202.4,452.8 1202.5,407.5 1202.6,430.7 1202.7,414.6 1202.8,417.5 1202.8,396.0 1202.9,384.7 1203.0,401.9 1203.1,424.8 1203.2,437.1 1203.3,422.5 1203.4,420.9 1203.5,400.8 1203.6,436.4 1203.6,433.6 1203.7,405.4 1203.8,412.7 1203.9,398.5 1204.0,435.4 1204.1,419.5 1204.2,412.0 1204.3,419.5 1204.4,420.0 1204.4,407.2 1204.5,394.8 1204.6,394.1 1204.7,387.3 1204.8,420.3 1204.9,446.7 1205.0,387.9 1205.1,415.5 1205.2,419.6 1205.2,398.6 1205.3,416.5 1205.4,396.9 1205.5,431.4 1205.6,404.5 1205.7,414.9 1205.8,423.7 1205.9,407.0 1206.0,386.5 1206.0,405.4 1206.1,424.8 1206.2,412.1 1206.3,416.8 1206.4,397.2 1206.5,415.5 1206.6,424.3 1206.7,413.9 1206.8,442.0 1206.8,410.3 1206.9,397.8 1207.0,389.1 1207.1,430.7 1207.2,412.5 1207.3,428.6 1207.4,420.3 1207.5,437.8 1207.6,432.4 1207.6,407.7 1207.7,417.5 1207.8,429.7 1207.9,394.9 1208.0,435.2 1208.1,431.6 1208.2,428.1 1208.3,410.4 1208.4,417.9 1208.4,396.6 1208.5,414.3 1208.6,404.6 1208.7,414.7 1208.8,406.0 1208.9,417.7 1209.0,431.1 1209.1,393.8 1209.2,427.3 1209.2,383.5 1209.3,381.0 1209.4,411.6 1209.5,413.5 1209.6,420.0 1209.7,388.7 1209.8,412.5 1209.9,415.3 1210.0,432.2 1210.1,411.8 1210.1,421.3 1210.2,398.7 1210.3,410.6 1210.4,406.7 1210.5,423.9 1210.6,398.6 1210.7,400.9 1210.8,422.0 1210.9,440.2 1210.9,419.1 1211.0,418.0 1211.1,408.2 1211.2,429.7 1211.3,421.5 1211.4,439.4 1211.5,418.4 1211.6,399.2 1211.7,404.9 1211.7,398.6 1211.8,394.6 1211.9,432.4 1212.0,425.5 1212.1,394.8 1212.2,440.1 1212.3,417.1 1212.4,399.0 1212.5,419.2 1212.5,412.4 1212.6,401.8 1212.7,384.3 1212.8,414.0 1212.9,417.8 1213.0,374.7 1213.1,421.7 1213.2,422.7 1213.3,406.4 1213.3,415.1 1213.4,409.2 1213.5,400.8 1213.6,408.0 1213.7,433.7 1213.8,391.6 1213.9,417.0 1214.0,416.2 1214.1,402.8 1214.1,406.8 1214.2,392.4 1214.3,400.6 1214.4,413.6 1214.5,418.3 1214.6,399.9 1214.7,459.2 1214.8,404.8 1214.9,415.3 1214.9,409.9 1215.0,407.4 1215.1,432.9 1215.2,406.2 1215.3,433.4 1215.4,430.5 1215.5,397.7 1215.6,428.9 1215.7,403.6 1215.7,454.4 1215.8,407.6 1215.9,399.3 1216.0,384.7 1216.1,394.0 1216.2,404.7 1216.3,398.4 1216.4,395.0 1216.5,403.0 1216.5,410.3 1216.6,435.1 1216.7,387.9 1216.8,405.1 1216.9,399.1 1217.0,390.7 1217.1,394.4 1217.2,399.8 1217.3,424.2 1217.3,410.5 1217.4,405.3 1217.5,422.6 1217.6,417.6 1217.7,410.1 1217.8,419.2 1217.9,401.0 1218.0,422.8 1218.1,420.4 1218.1,407.2 1218.2,395.1 1218.3,436.2 1218.4,414.8 1218.5,459.2 1218.6,403.6 1218.7,426.2 1218.8,406.9 1218.9,417.2 1218.9,425.9 1219.0,401.4 1219.1,411.9 1219.2,415.8 1219.3,415.1 1219.4,422.3 1219.5,428.8 1219.6,425.9 1219.7,417.3 1219.8,408.2 1219.8,396.5 1219.9,402.4 1220.0,405.5 1220.1,423.6 1220.2,407.9 1220.3,394.8 1220.4,422.8 1220.5,401.4 1220.6,401.9 1220.6,410.0 1220.7,420.5 1220.8,377.2 1220.9,396.6 1221.0,416.0 1221.1,407.9 1221.2,400.4 1221.3,405.3 1221.4,434.2 1221.4,406.6 1221.5,424.1 1221.6,425.3 1221.7,406.6 1221.8,420.1 1221.9,406.6 1222.0,404.2 1222.1,396.5 1222.2,426.5 1222.2,407.4 1222.3,405.1 1222.4,396.5 1222.5,440.5 1222.6,424.5 1222.7,411.4 1222.8,403.0 1222.9,390.5 1223.0,417.8 1223.0,417.7 1223.1,392.3 1223.2,430.8 1223.3,425.0 1223.4,399.0 1223.5,405.1 1223.6,407.0 1223.7,415.8 1223.8,411.2 1223.8,388.8 1223.9,435.5 1224.0,418.1 1224.1,432.3 1224.2,432.2 1224.3,410.3 1224.4,418.5 1224.5,424.4 1224.6,424.9 1224.6,410.9 1224.7,404.1 1224.8,413.9 1224.9,401.4 1225.0,405.1 1225.1,382.9 1225.2,414.7 1225.3,398.0 1225.4,405.1 1225.4,412.6 1225.5,418.1 1225.6,441.7 1225.7,416.5 1225.8,392.2 1225.9,415.4 1226.0,404.5 1226.1,419.4 1226.2,403.1 1226.2,402.8 1226.3,405.7 1226.4,404.0 1226.5,386.0 1226.6,403.4 1226.7,413.2 1226.8,431.4 1226.9,409.0 1227.0,407.8 1227.0,422.1 1227.1,421.5 1227.2,437.4 1227.3,422.2 1227.4,413.1 1227.5,433.5 1227.6,436.3 1227.7,406.3 1227.8,415.8 1227.8,388.2 1227.9,407.9 1228.0,400.1 1228.1,410.2 1228.2,406.2 1228.3,410.9 1228.4,411.9 1228.5,420.8 1228.6,416.9 1228.6,405.0 1228.7,394.1 1228.8,431.9 1228.9,434.7 1229.0,406.6 1229.1,421.8 1229.2,390.5 1229.3,390.0 1229.4,409.4 1229.5,435.5 1229.5,397.7 1229.6,400.9 1229.7,437.5 1229.8,385.0 1229.9,423.1 1230.0,420.7 1230.1,410.3 1230.2,416.2 1230.3,452.7 1230.3,396.5 1230.4,408.7 1230.5,409.8 1230.6,403.1 1230.7,393.3 1230.8,437.3 1230.9,416.7 1231.0,387.0 1231.1,402.9 1231.1,419.5 1231.2,419.5 1231.3,391.8 1231.4,412.0 1231.5,417.3 1231.6,419.3 1231.7,419.3 1231.8,386.1 1231.9,441.1 1231.9,416.6 1232.0,440.5 1232.1,456.3 1232.2,411.0 1232.3,394.9 1232.4,426.4 1232.5,410.7 1232.6,406.6 1232.7,397.9 1232.7,438.7 1232.8,406.8 1232.9,392.4 1233.0,406.7 1233.1,396.0 1233.2,415.8 1233.3,407.1 1233.4,397.5 1233.5,422.4 1233.5,403.7 1233.6,424.3 1233.7,432.3 1233.8,408.0 1233.9,403.7 1234.0,416.4 1234.1,426.8 1234.2,413.4 1234.3,415.5 1234.3,413.0 1234.4,418.1 1234.5,422.8 1234.6,402.8 1234.7,406.2 1234.8,414.1 1234.9,403.4 1235.0,415.4 1235.1,421.4 1235.1,413.1 1235.2,404.3 1235.3,401.7 1235.4,439.7 1235.5,426.6 1235.6,396.6 1235.7,400.8 1235.8,441.5 1235.9,436.1 1235.9,415.3 1236.0,430.8 1236.1,391.1 1236.2,413.4 1236.3,424.5 1236.4,385.5 1236.5,401.7 1236.6,425.1 1236.7,430.4 1236.7,404.5 1236.8,417.7 1236.9,437.4 1237.0,407.7 1237.1,393.4 1237.2,412.5 1237.3,407.5 1237.4,432.9 1237.5,415.8 1237.5,401.4 1237.6,449.4 1237.7,405.9 1237.8,420.5 1237.9,423.5 1238.0,425.2 1238.1,416.0 1238.2,422.2 1238.3,412.4 1238.3,392.1 1238.4,410.1 1238.5,410.4 1238.6,410.7 1238.7,415.4 1238.8,404.0 1238.9,433.2 1239.0,436.9 1239.1,380.4 1239.2,413.5 1239.2,402.7 1239.3,374.3 1239.4,419.6 1239.5,404.1 1239.6,407.8 1239.7,403.6 1239.8,429.7 1239.9,432.0 1240.0,417.6 1240.0,423.8 1240.1,411.7 1240.2,415.5 1240.3,402.3 1240.4,413.9 1240.5,402.7 1240.6,419.0 1240.7,425.8 1240.8,418.1 1240.8,431.2 1240.9,453.8 1241.0,381.8 1241.1,413.6 1241.2,404.9 1241.3,406.5 1241.4,393.0 1241.5,414.2 1241.6,409.5 1241.6,403.9 1241.7,409.6 1241.8,404.5 1241.9,378.3 1242.0,429.6 1242.1,408.8 1242.2,399.2 1242.3,418.0 1242.4,403.5 1242.4,380.8 1242.5,426.7 1242.6,388.2 1242.7,410.1 1242.8,415.2 1242.9,433.6 1243.0,431.3 1243.1,415.9 1243.2,401.9 1243.2,407.2 1243.3,429.7 1243.4,440.2 1243.5,421.6 1243.6,403.7 1243.7,428.8 1243.8,407.8 1243.9,407.3 1244.0,409.2 1244.0,422.3 1244.1,417.5 1244.2,428.3 1244.3,432.8 1244.4,421.1 1244.5,378.4 1244.6,388.0 1244.7,415.8 1244.8,412.4 1244.8,445.8 1244.9,412.9 1245.0,411.1 1245.1,427.6 1245.2,429.4 1245.3,409.9 1245.4,420.5 1245.5,396.4 1245.6,399.3 1245.6,431.9 1245.7,392.3 1245.8,427.2 1245.9,423.6 1246.0,424.9 1246.1,427.1 1246.2,421.9 1246.3,381.3 1246.4,398.3 1246.4,404.4 1246.5,427.1 1246.6,396.5 1246.7,402.8 1246.8,408.0 1246.9,433.1 1247.0,391.8 1247.1,393.1 1247.2,422.8 1247.2,381.5 1247.3,418.4 1247.4,406.6 1247.5,389.7 1247.6,407.1 1247.7,398.4 1247.8,415.9 1247.9,418.9 1248.0,435.7 1248.0,413.2 1248.1,414.9 1248.2,404.7 1248.3,413.0 1248.4,429.1 1248.5,384.5 1248.6,423.3 1248.7,405.4 1248.8,414.5 1248.9,418.3 1248.9,426.2 1249.0,417.0 1249.1,407.5 1249.2,418.1 1249.3,413.6 1249.4,410.3 1249.5,416.5 1249.6,426.5 1249.7,415.5 1249.7,415.7 1249.8,394.1 1249.9,411.5 1250.0,385.5 1250.1,424.2 1250.2,399.3 1250.3,432.8 1250.4,458.3 1250.5,407.4 1250.5,433.3 1250.6,419.5 1250.7,405.0 1250.8,400.8 1250.9,421.8 1251.0,434.3 1251.1,418.7 1251.2,390.7 1251.3,397.8 1251.3,410.0 1251.4,433.8 1251.5,417.7 1251.6,418.3 1251.7,431.6 1251.8,410.3 1251.9,412.1 1252.0,410.7 1252.1,386.7 1252.1,420.4 1252.2,419.6 1252.3,428.0 1252.4,395.6 1252.5,401.2 1252.6,427.4 1252.7,418.2 1252.8,434.0 1252.9,400.5 1252.9,416.4 1253.0,403.3 1253.1,418.0 1253.2,406.1 1253.3,421.4 1253.4,429.6 1253.5,423.5 1253.6,386.3 1253.7,427.5 1253.7,420.1 1253.8,397.8 1253.9,400.1 1254.0,413.5 1254.1,422.0 1254.2,406.6 1254.3,389.1 1254.4,417.6 1254.5,415.9 1254.5,450.0 1254.6,394.1 1254.7,451.3 1254.8,439.6 1254.9,417.9 1255.0,438.3 1255.1,414.8 1255.2,428.1 1255.3,402.4 1255.3,414.6 1255.4,398.2 1255.5,389.8 1255.6,409.3 1255.7,403.5 1255.8,422.0 1255.9,432.5 1256.0,410.9 1256.1,414.3 1256.1,416.2 1256.2,388.2 1256.3,417.4 1256.4,413.6 1256.5,412.7 1256.6,396.9 1256.7,383.7 1256.8,409.6 1256.9,418.1 1256.9,433.5 1257.0,430.4 1257.1,435.2 1257.2,418.9 1257.3,430.7 1257.4,410.3 1257.5,422.8 1257.6,427.4 1257.7,453.7 1257.7,417.0 1257.8,394.3 1257.9,434.1 1258.0,401.5 1258.1,412.5 1258.2,409.0 1258.3,399.8 1258.4,433.4 1258.5,422.3 1258.6,404.2 1258.6,414.4 1258.7,406.9 1258.8,422.6 1258.9,407.7 1259.0,401.9 1259.1,403.7 1259.2,406.8 1259.3,417.7 1259.4,399.6 1259.4,412.1 1259.5,420.1 1259.6,448.5 1259.7,426.2 1259.8,368.6 1259.9,405.7 1260.0,407.4 1260.1,418.2 1260.2,436.9 1260.2,424.5 1260.3,378.9 1260.4,418.0 1260.5,415.0 1260.6,419.6 1260.7,433.8 1260.8,397.0 1260.9,429.9 1261.0,388.6 1261.0,414.2 1261.1,419.1 1261.2,447.7 1261.3,402.9 1261.4,388.0 1261.5,423.7 1261.6,403.5 1261.7,436.9 1261.8,402.8 1261.8,400.2 1261.9,432.1 1262.0,414.7 1262.1,428.4 1262.2,391.9 1262.3,438.2 1262.4,404.6 1262.5,425.7 1262.6,398.3 1262.6,390.1 1262.7,409.5 1262.8,416.0 1262.9,437.0 1263.0,418.7 1263.1,424.1 1263.2,423.3 1263.3,459.4 1263.4,401.1 1263.4,432.2 1263.5,411.2 1263.6,417.3 1263.7,405.2 1263.8,430.8 1263.9,394.6 1264.0,393.6 1264.1,410.3 1264.2,396.0 1264.2,423.9 1264.3,427.2 1264.4,402.1 1264.5,425.2 1264.6,403.5 1264.7,412.7 1264.8,413.5 1264.9,441.5 1265.0,413.4 1265.0,399.7 1265.1,399.6 1265.2,431.4 1265.3,388.4 1265.4,406.3 1265.5,407.7 1265.6,376.6 1265.7,406.4 1265.8,428.4 1265.8,416.9 1265.9,399.9 1266.0,423.8 1266.1,421.1 1266.2,443.8 1266.3,402.3 1266.4,407.6 1266.5,414.0 1266.6,411.3 1266.6,414.7 1266.7,411.8 1266.8,403.0 1266.9,389.3 1267.0,405.0 1267.1,392.5 1267.2,397.6 1267.3,405.2 1267.4,420.9 1267.4,426.1 1267.5,397.7 1267.6,417.9 1267.7,425.3 1267.8,412.5 1267.9,388.6 1268.0,380.8 1268.1,425.1 1268.2,426.9 1268.3,417.3 1268.3,397.3 1268.4,434.9 1268.5,431.3 1268.6,412.4 1268.7,409.7 1268.8,383.7 1268.9,424.3 1269.0,388.8 1269.1,423.2 1269.1,424.0 1269.2,414.4 1269.3,436.7 1269.4,408.2 1269.5,421.9 1269.6,425.0 1269.7,416.7 1269.8,406.7 1269.9,431.5 1269.9,419.4 1270.0,410.1 1270.1,410.5 1270.2,415.0 1270.3,447.2 1270.4,414.6 1270.5,409.4 1270.6,397.1 1270.7,394.7 1270.7,384.6 1270.8,416.5 1270.9,413.4 1271.0,397.6 1271.1,390.7 1271.2,408.1 1271.3,405.1 1271.4,392.9 1271.5,417.5 1271.5,415.1 1271.6,412.2 1271.7,424.5 1271.8,403.2 1271.9,433.4 1272.0,397.7 1272.1,420.7 1272.2,422.5 1272.3,409.0 1272.3,418.2 1272.4,393.7 1272.5,390.4 1272.6,409.9 1272.7,402.0 1272.8,421.8 1272.9,413.4 1273.0,422.2 1273.1,417.7 1273.1,416.0 1273.2,414.3 1273.3,407.3 1273.4,406.0 1273.5,443.4 1273.6,386.5 1273.7,410.1 1273.8,428.0 1273.9,419.2 1273.9,434.0 1274.0,421.1 1274.1,394.0 1274.2,408.0 1274.3,391.8 1274.4,427.7 1274.5,434.5 1274.6,406.2 1274.7,421.0 1274.7,406.7 1274.8,391.2 1274.9,406.1 1275.0,389.1 1275.1,404.3 1275.2,416.0 1275.3,423.7 1275.4,432.2 1275.5,407.8 1275.5,416.3 1275.6,419.1 1275.7,421.1 1275.8,370.0 1275.9,401.0 1276.0,424.6 1276.1,395.9 1276.2,416.4 1276.3,425.2 1276.3,384.2 1276.4,409.8 1276.5,416.2 1276.6,412.8 1276.7,389.7 1276.8,417.8 1276.9,404.2 1277.0,424.9 1277.1,419.0 1277.2,404.3 1277.2,415.2 1277.3,402.1 1277.4,402.0 1277.5,388.8 1277.6,408.9 1277.7,424.5 1277.8,414.1 1277.9,412.0 1278.0,402.8 1278.0,404.3 1278.1,423.3 1278.2,389.7 1278.3,443.1 1278.4,411.1 1278.5,444.7 1278.6,429.7 1278.7,405.8 1278.8,423.0 1278.8,415.8 1278.9,418.9 1279.0,423.8 1279.1,403.7 1279.2,402.6 1279.3,405.5 1279.4,391.3 1279.5,407.8 1279.6,415.2 1279.6,415.5 1279.7,414.6 1279.8,405.7 1279.9,423.5 1280.0,380.8 1280.1,405.6 1280.2,406.6 1280.3,425.0 1280.4,421.5 1280.4,423.5 1280.5,411.6 1280.6,425.6 1280.7,396.3 1280.8,412.4 1280.9,379.6 1281.0,436.9 1281.1,435.1 1281.2,402.2 1281.2,398.4 1281.3,379.7 1281.4,388.2 1281.5,413.0 1281.6,408.8 1281.7,389.0 1281.8,403.6 1281.9,401.2 1282.0,418.2 1282.0,421.8 1282.1,407.9 1282.2,412.9 1282.3,411.1 1282.4,379.8 1282.5,413.9 1282.6,410.2 1282.7,422.5 1282.8,383.7 1282.8,422.7 1282.9,401.6 1283.0,415.2 1283.1,429.4 1283.2,389.1 1283.3,391.6 1283.4,426.2 1283.5,394.1 1283.6,396.9 1283.6,420.3 1283.7,408.2 1283.8,423.0 1283.9,415.8 1284.0,410.9 1284.1,426.1 1284.2,444.1 1284.3,409.8 1284.4,433.5 1284.4,428.3 1284.5,413.0 1284.6,418.2 1284.7,397.3 1284.8,402.1 1284.9,415.5 1285.0,410.6 1285.1,430.9 1285.2,391.9 1285.2,407.0 1285.3,401.8 1285.4,409.1 1285.5,428.8 1285.6,393.3 1285.7,424.1 1285.8,402.5 1285.9,406.5 1286.0,426.4 1286.0,407.1 1286.1,421.4 1286.2,413.1 1286.3,408.8 1286.4,406.0 1286.5,385.5 1286.6,400.2 1286.7,414.0 1286.8,414.5 1286.9,389.1 1286.9,426.5 1287.0,420.1 1287.1,392.0 1287.2,395.9 1287.3,419.2 1287.4,385.2 1287.5,400.4 1287.6,410.8 1287.7,409.7 1287.7,410.8 1287.8,417.5 1287.9,399.7 1288.0,404.3 1288.1,442.5 1288.2,390.6 1288.3,405.0 1288.4,413.4 1288.5,402.0 1288.5,430.1 1288.6,412.8 1288.7,423.1 1288.8,372.5 1288.9,429.6 1289.0,429.0 1289.1,400.5 1289.2,431.4 1289.3,415.8 1289.3,425.8 1289.4,439.1 1289.5,413.4 1289.6,396.7 1289.7,411.8 1289.8,392.8 1289.9,399.9 1290.0,400.5 1290.1,401.3 1290.1,429.5 1290.2,424.6 1290.3,398.6 1290.4,429.0 1290.5,386.9 1290.6,402.2 1290.7,410.0 1290.8,430.0 1290.9,423.1 1290.9,419.0 1291.0,431.8 1291.1,423.0 1291.2,432.8 1291.3,400.5 1291.4,386.9 1291.5,406.1 1291.6,424.8 1291.7,416.3 1291.7,425.7 1291.8,423.0 1291.9,420.1 1292.0,424.7 1292.1,401.7 1292.2,428.8 1292.3,397.3 1292.4,410.7 1292.5,391.2 1292.5,420.0 1292.6,389.1 1292.7,433.5 1292.8,392.2 1292.9,416.3 1293.0,410.3 1293.1,399.3 1293.2,431.2 1293.3,406.0 1293.3,434.5 1293.4,397.0 1293.5,400.4 1293.6,382.4 1293.7,420.8 1293.8,426.2 1293.9,415.8 1294.0,410.0 1294.1,398.6 1294.1,447.8 1294.2,423.6 1294.3,384.8 1294.4,407.8 1294.5,373.3 1294.6,436.2 1294.7,442.2 1294.8,434.5 1294.9,411.7 1294.9,403.6 1295.0,391.4 1295.1,420.5 1295.2,401.3 1295.3,406.9 1295.4,402.9 1295.5,407.9 1295.6,426.0 1295.7,437.9 1295.7,414.8 1295.8,412.8 1295.9,395.8 1296.0,394.1 1296.1,396.6 1296.2,425.9 1296.3,416.3 1296.4,427.2 1296.5,419.0 1296.6,406.6 1296.6,393.9 1296.7,407.1 1296.8,391.1 1296.9,442.8 1297.0,416.7 1297.1,407.1 1297.2,442.7 1297.3,406.9 1297.4,421.1 1297.4,410.2 1297.5,418.1 1297.6,407.1 1297.7,420.1 1297.8,434.2 1297.9,393.6 1298.0,379.2 1298.1,433.1 1298.2,415.2 1298.2,425.9 1298.3,408.3 1298.4,436.1 1298.5,440.3 1298.6,395.0 1298.7,422.9 1298.8,403.5 1298.9,388.3 1299.0,408.1 1299.0,421.2 1299.1,391.9 1299.2,393.1 1299.3,431.2 1299.4,413.0 1299.5,418.6 1299.6,395.1 1299.7,402.5 1299.8,414.2 1299.8,415.2 1299.9,414.5 1300.0,436.4 1300.1,414.7 1300.2,388.9 1300.3,398.8 1300.4,411.2 1300.5,431.4 1300.6,401.5 1300.6,406.0 1300.7,411.5 1300.8,401.1 1300.9,399.3 1301.0,408.2" fill="none" stroke="#2a7bbf" stroke-width="0.75" stroke-linejoin="round" />
<line x1="435" y1="280" x2="435" y2="358" stroke="#7fb0da" stroke-width="1.3"/>
<line x1="438.4" y1="288.5" x2="438.4" y2="358" stroke="#7fb0da" stroke-width="1.3"/>
<line x1="454.8" y1="296.5" x2="454.8" y2="358" stroke="#7fb0da" stroke-width="1.3"/>
<polyline points="420.6,363.8 420.8,342.6 421.0,356.3 421.2,351.8 421.4,352.3 421.5,353.4 421.7,345.1 421.9,353.3 422.1,350.4 422.3,369.7 422.5,355.4 422.7,352.8 422.9,353.1 423.1,351.3 423.3,349.5 423.4,352.6 423.6,356.6 423.8,353.3 424.0,358.8 424.2,353.5 424.4,354.5 424.6,361.5 424.8,356.9 425.0,352.1 425.2,353.6 425.3,356.9 425.5,363.3 425.7,353.2 425.9,353.3 426.1,359.0 426.3,350.3 426.5,353.1 426.7,358.5 426.9,357.1 427.1,354.8 427.2,357.5 427.4,341.4 427.6,359.1 427.8,350.0 428.0,346.7 428.2,355.7 428.4,357.6 428.6,352.4 428.8,349.4 429.0,354.5 429.1,354.2 429.3,360.9 429.5,357.8 429.7,355.3 429.9,359.5 430.1,353.5 430.3,350.1 430.5,357.1 430.7,357.1 430.9,353.4 431.0,350.8 431.2,355.5 431.4,342.9 431.6,357.6 431.8,356.7 432.0,346.9 432.2,354.7 432.4,350.0 432.6,357.9 432.7,345.0 432.9,350.2 433.1,357.7 433.3,359.7 433.5,344.5 433.7,352.1 433.9,355.9 434.1,351.6 434.3,361.7 434.5,348.9 434.6,356.0 434.8,349.6 435.0,360.9 435.2,354.3 435.4,352.7 435.6,346.5 435.8,362.1 436.0,357.9 436.2,357.9 436.4,359.6 436.5,356.0 436.7,351.5 436.9,350.7 437.1,350.7 437.3,360.7 437.5,347.7 437.7,351.7 437.9,352.9 438.1,355.4 438.3,357.0 438.4,348.7 438.6,346.4 438.8,354.4 439.0,360.0 439.2,357.9 439.4,355.4 439.6,352.9 439.8,355.7 440.0,353.3 440.2,358.2 440.3,350.7 440.5,355.0 440.7,353.9 440.9,356.9 441.1,355.4 441.3,366.1 441.5,361.3 441.7,361.3 441.9,345.0 442.1,352.8 442.2,351.6 442.4,356.9 442.6,343.9 442.8,359.8 443.0,359.3 443.2,348.4 443.4,349.9 443.6,350.7 443.8,354.6 443.9,357.3 444.1,363.8 444.3,353.5 444.5,357.9 444.7,355.1 444.9,362.5 445.1,357.8 445.3,360.7 445.5,349.4 445.7,353.5 445.8,350.7 446.0,361.3 446.2,357.4 446.4,353.0 446.6,352.3 446.8,356.6 447.0,351.2 447.2,350.1 447.4,356.6 447.6,365.7 447.7,353.3 447.9,351.8 448.1,349.0 448.3,348.3 448.5,356.8 448.7,358.3 448.9,354.4 449.1,355.9 449.3,354.9 449.5,355.0 449.6,347.4 449.8,352.3 450.0,354.9 450.2,350.8 450.4,352.2 450.6,350.6 450.8,352.9 451.0,358.3 451.2,352.5 451.4,353.7 451.5,358.1 451.7,357.4 451.9,362.2 452.1,344.8 452.3,358.3 452.5,352.2 452.7,355.0 452.9,358.3 453.1,359.4 453.3,359.2 453.4,355.1 453.6,361.8 453.8,353.1 454.0,353.8 454.2,358.1 454.4,351.9 454.6,364.3 454.8,359.1 455.0,364.4 455.1,354.3 455.3,352.6 455.5,355.2 455.7,357.8 455.9,351.7 456.1,356.1 456.3,354.3 456.5,361.8 456.7,351.4 456.9,359.2 457.0,351.4 457.2,350.0 457.4,351.1 457.6,348.9 457.8,355.1 458.0,359.1 458.2,355.2 458.4,357.3 458.6,361.9 458.8,355.6 458.9,355.3 459.1,353.1 459.3,347.0 459.5,357.9 459.7,346.3 459.9,357.4 460.1,354.3 460.3,359.6 460.5,354.1 460.7,350.6 460.8,356.0 461.0,351.8 461.2,353.6 461.4,354.6 461.6,353.8 461.8,353.5 462.0,350.6 462.2,353.5 462.4,344.6 462.6,353.7 462.7,348.9 462.9,359.6 463.1,360.2 463.3,345.4 463.5,355.1 463.7,353.8 463.9,349.6 464.1,356.8 464.3,352.3 464.5,346.3 464.6,353.2 464.8,353.7 465.0,354.9 465.2,348.7 465.4,357.2 465.6,357.8 465.8,349.1 466.0,351.4 466.2,354.0 466.3,351.8 466.5,362.4 466.7,355.4 466.9,349.8 467.1,350.8 467.3,354.1 467.5,365.0 467.7,353.6 467.9,355.0 468.1,356.8 468.2,354.2 468.4,364.9 468.6,352.0 468.8,357.8 469.0,355.1 469.2,357.3 469.4,349.0 469.6,362.5 469.8,353.8 470.0,354.6 470.1,350.1 470.3,351.0 470.5,357.0 470.7,358.9 470.9,357.9 471.1,360.0 471.3,357.7 471.5,354.5 471.7,358.2 471.9,357.1 472.0,353.9 472.2,357.7 472.4,360.3 472.6,355.5 472.8,352.8 473.0,357.7 473.2,363.1 473.4,353.4 473.6,354.0 473.8,353.8 473.9,360.0 474.1,345.9 474.3,356.1 474.5,359.9 474.7,350.7 474.9,361.2 475.1,356.9 475.3,351.9 475.5,355.3 475.7,347.3 475.8,351.8 476.0,334.4 476.2,350.3 476.4,362.9 476.6,354.0 476.8,359.0 477.0,354.6 477.2,344.1 477.4,351.8 477.5,355.3 477.7,349.1 477.9,348.2 478.1,356.1 478.3,351.4 478.5,346.6 478.7,351.3 478.9,358.4 479.1,352.2 479.3,358.7 479.4,361.4 479.6,354.5 479.8,349.2 480.0,348.4 480.2,354.3 480.4,358.5 480.6,355.6 480.8,356.9 481.0,352.4 481.2,355.8 481.3,352.2 481.5,352.9 481.7,348.5 481.9,347.2 482.1,352.2 482.3,349.3 482.5,350.0 482.7,357.5 482.9,353.9 483.1,367.8 483.2,358.7 483.4,351.5 483.6,358.0 483.8,356.0 484.0,351.2 484.2,359.5 484.4,350.8 484.6,340.3 484.8,358.1 485.0,351.6 485.1,361.2 485.3,351.4 485.5,349.0 485.7,361.5 485.9,349.5 486.1,355.3 486.3,361.1 486.5,354.9 486.7,354.0 486.9,354.9 487.0,358.3 487.2,350.7 487.4,357.2 487.6,357.1 487.8,365.1 488.0,352.9 488.2,350.2 488.4,357.8 488.6,352.6 488.7,355.7 488.9,355.0 489.1,359.8 489.3,351.4 489.5,354.0 489.7,342.7 489.9,350.3 490.1,361.5 490.3,351.3 490.5,351.2 490.6,348.8 490.8,357.1 491.0,355.2 491.2,348.9 491.4,357.5 491.6,355.6 491.8,357.9 492.0,351.4 492.2,362.4 492.4,356.3 492.5,353.9 492.7,352.0 492.9,353.3 493.1,358.4 493.3,353.2 493.5,359.4 493.7,357.1 493.9,360.6 494.1,358.1 494.3,354.1 494.4,345.6 494.6,355.8 494.8,358.0 495.0,355.1 495.2,357.0 495.4,352.2 495.6,352.6 495.8,350.1 496.0,360.7 496.2,355.1 496.3,352.1 496.5,348.3 496.7,353.7 496.9,361.0 497.1,356.5 497.3,351.1 497.5,361.0 497.7,361.0 497.9,358.9 498.1,358.0 498.2,359.7 498.4,356.9 498.6,358.0 498.8,350.8 499.0,361.3 499.2,355.5 499.4,363.7 499.6,345.0 499.8,357.6 499.9,358.9 500.1,352.8 500.3,356.5 500.5,357.8 500.7,357.1 500.9,351.9 501.1,353.7 501.3,359.1 501.5,360.3 501.7,354.9 501.8,354.8 502.0,355.3 502.2,359.2 502.4,349.6 502.6,348.3 502.8,355.0 503.0,349.3 503.2,351.7 503.4,354.8 503.6,356.6 503.7,349.5 503.9,358.1 504.1,346.2 504.3,356.9 504.5,347.1 504.7,348.5 504.9,357.4 505.1,352.5 505.3,350.7 505.5,352.4 505.6,356.5 505.8,354.2 506.0,354.3 506.2,359.3 506.4,351.1 506.6,352.2 506.8,352.0 507.0,359.8 507.2,359.0 507.4,360.3 507.5,354.2 507.7,353.7 507.9,358.3 508.1,352.6 508.3,358.2 508.5,357.7 508.7,351.2 508.9,354.0 509.1,353.9 509.3,362.4 509.4,366.3 509.6,353.9 509.8,354.5 510.0,340.4 510.2,355.4 510.4,354.4 510.6,349.5 510.8,358.0 511.0,347.2 511.1,353.4 511.3,355.0 511.5,348.7 511.7,358.3 511.9,359.3 512.1,348.0 512.3,347.9 512.5,357.2 512.7,354.3 512.9,348.8 513.0,353.0 513.2,353.9 513.4,353.7 513.6,358.2 513.8,356.2 514.0,362.5 514.2,360.7 514.4,357.5 514.6,359.4 514.8,360.5 514.9,357.6 515.1,348.8 515.3,358.4 515.5,354.7 515.7,361.8 515.9,354.8 516.1,356.8 516.3,355.9 516.5,362.1 516.7,355.2 516.8,353.2 517.0,355.8 517.2,352.4 517.4,355.1 517.6,354.4 517.8,355.6 518.0,363.2 518.2,352.5 518.4,354.6 518.6,353.5 518.7,357.5 518.9,349.0 519.1,351.2 519.3,354.2 519.5,356.9 519.7,354.2 519.9,352.1 520.1,350.4 520.3,356.8 520.5,361.0 520.6,355.9 520.8,355.3 521.0,356.4 521.2,350.1 521.4,353.0 521.6,353.2 521.8,355.8 522.0,354.3 522.2,348.8 522.3,359.6 522.5,362.2 522.7,353.2 522.9,356.2 523.1,355.6 523.3,358.0 523.5,347.6 523.7,361.8 523.9,352.2 524.1,360.2 524.2,354.8 524.4,352.6 524.6,353.8 524.8,358.5 525.0,350.4 525.2,352.7 525.4,352.2 525.6,346.5 525.8,360.4 526.0,357.1 526.1,354.3 526.3,359.8 526.5,350.0 526.7,354.1 526.9,362.3 527.1,358.9 527.3,344.2 527.5,339.1 527.7,349.6 527.9,359.3 528.0,352.2 528.2,353.4 528.4,357.2 528.6,350.3 528.8,355.4 529.0,358.0 529.2,356.5 529.4,356.2 529.6,351.6 529.8,356.8 529.9,352.4 530.1,360.4 530.3,366.2 530.5,351.0 530.7,344.4 530.9,352.4 531.1,356.1 531.3,359.2 531.5,359.4 531.7,350.8 531.8,350.8 532.0,360.2 532.2,349.4 532.4,359.4 532.6,353.4 532.8,357.9 533.0,357.6 533.2,358.0 533.4,358.2 533.5,349.8 533.7,355.8 533.9,354.5 534.1,355.8 534.3,360.1 534.5,353.2 534.7,351.1 534.9,351.1 535.1,353.0 535.3,357.9 535.4,350.7 535.6,359.7 535.8,355.7 536.0,353.4 536.2,348.3 536.4,355.5 536.6,357.6 536.8,346.3 537.0,359.9 537.2,362.0 537.3,356.0 537.5,356.7 537.7,365.5 537.9,360.1 538.1,350.3 538.3,354.3 538.5,353.7 538.7,353.7 538.9,343.5 539.1,357.9 539.2,351.5 539.4,355.2 539.6,353.8 539.8,358.4 540.0,353.0 540.2,350.7 540.4,356.8 540.6,360.9 540.8,352.9 541.0,360.7 541.1,355.6 541.3,351.9 541.5,361.4 541.7,350.6 541.9,359.1 542.1,352.1 542.3,356.5 542.5,348.7 542.7,350.5 542.9,359.3 543.0,355.3 543.2,354.6 543.4,352.4 543.6,356.5 543.8,348.0" fill="none" stroke="#2f7bbd" stroke-width="0.85" stroke-linejoin="round" />
<line x1="815" y1="283" x2="815" y2="345" stroke="#6fa6d6" stroke-width="1.3"/>
<line x1="818" y1="290" x2="818" y2="345" stroke="#6fa6d6" stroke-width="1.3"/>
<line x1="833" y1="298" x2="833" y2="345" stroke="#6fa6d6" stroke-width="1.3"/>
<line x1="855" y1="312" x2="855" y2="345" stroke="#6fa6d6" stroke-width="1.3"/>
<line x1="875" y1="303" x2="875" y2="345" stroke="#6fa6d6" stroke-width="1.3"/>
<polyline points="800.0,334.0 800.2,338.0 800.4,353.6 800.6,345.1 800.8,325.5 801.0,339.5 801.1,334.2 801.3,340.8 801.5,325.8 801.7,341.6 801.9,341.5 802.1,352.9 802.3,342.2 802.5,343.8 802.7,326.8 802.9,358.6 803.1,323.2 803.2,348.9 803.4,336.7 803.6,332.0 803.8,333.9 804.0,333.8 804.2,342.7 804.4,338.6 804.6,352.1 804.8,323.9 805.0,339.5 805.2,331.9 805.3,346.1 805.5,321.5 805.7,336.6 805.9,341.3 806.1,326.9 806.3,347.9 806.5,341.0 806.7,348.1 806.9,347.7 807.1,331.2 807.2,332.7 807.4,337.8 807.6,345.9 807.8,346.7 808.0,333.5 808.2,334.3 808.4,332.7 808.6,334.5 808.8,337.5 809.0,338.4 809.2,357.0 809.3,335.2 809.5,337.0 809.7,343.4 809.9,331.4 810.1,336.4 810.3,339.6 810.5,346.1 810.7,328.3 810.9,351.2 811.1,336.5 811.3,340.9 811.4,346.7 811.6,345.1 811.8,348.5 812.0,341.0 812.2,339.3 812.4,342.2 812.6,331.0 812.8,349.8 813.0,332.9 813.2,328.8 813.4,357.0 813.5,338.3 813.7,329.5 813.9,355.2 814.1,336.7 814.3,348.5 814.5,332.4 814.7,337.4 814.9,325.1 815.1,323.3 815.3,331.2 815.5,338.8 815.6,346.3 815.8,360.1 816.0,330.7 816.2,348.1 816.4,334.4 816.6,338.2 816.8,326.9 817.0,326.9 817.2,332.9 817.4,329.4 817.5,339.5 817.7,333.5 817.9,350.1 818.1,340.8 818.3,340.9 818.5,349.2 818.7,343.9 818.9,339.2 819.1,338.7 819.3,338.5 819.5,348.7 819.6,346.2 819.8,342.6 820.0,346.3 820.2,334.9 820.4,343.8 820.6,327.5 820.8,351.0 821.0,340.3 821.2,341.1 821.4,344.6 821.6,339.4 821.7,337.3 821.9,349.6 822.1,340.5 822.3,331.7 822.5,343.2 822.7,325.0 822.9,353.6 823.1,338.0 823.3,339.9 823.5,358.7 823.7,357.8 823.8,340.5 824.0,344.8 824.2,348.8 824.4,353.8 824.6,338.4 824.8,340.6 825.0,349.9 825.2,341.8 825.4,345.9 825.6,344.7 825.8,329.9 825.9,332.2 826.1,317.0 826.3,337.3 826.5,350.9 826.7,330.1 826.9,350.0 827.1,348.0 827.3,339.0 827.5,339.4 827.7,340.2 827.9,332.2 828.0,337.1 828.2,339.1 828.4,344.7 828.6,346.2 828.8,333.2 829.0,346.5 829.2,332.9 829.4,338.1 829.6,342.6 829.8,339.3 829.9,338.4 830.1,341.8 830.3,334.8 830.5,334.0 830.7,337.8 830.9,347.7 831.1,338.6 831.3,355.7 831.5,341.3 831.7,314.2 831.9,335.8 832.0,353.7 832.2,339.6 832.4,335.8 832.6,332.1 832.8,350.8 833.0,348.0 833.2,345.2 833.4,343.1 833.6,351.7 833.8,346.5 834.0,329.0 834.1,346.0 834.3,340.9 834.5,338.6 834.7,346.0 834.9,339.7 835.1,314.6 835.3,352.7 835.5,348.3 835.7,338.5 835.9,336.3 836.1,341.4 836.2,328.6 836.4,342.1 836.6,337.5 836.8,336.5 837.0,331.7 837.2,333.7 837.4,348.9 837.6,350.8 837.8,343.8 838.0,339.1 838.2,332.0 838.3,345.6 838.5,353.2 838.7,325.8 838.9,349.5 839.1,321.1 839.3,336.6 839.5,342.8 839.7,327.9 839.9,326.6 840.1,341.1 840.2,347.0 840.4,335.5 840.6,350.9 840.8,332.9 841.0,354.4 841.2,340.5 841.4,341.5 841.6,344.7 841.8,342.2 842.0,355.2 842.2,358.3 842.3,344.1 842.5,338.1 842.7,329.5 842.9,333.1 843.1,339.6 843.3,338.6 843.5,339.1 843.7,339.5 843.9,343.7 844.1,328.0 844.3,330.8 844.4,349.0 844.6,346.6 844.8,334.9 845.0,350.5 845.2,333.8 845.4,337.4 845.6,324.0 845.8,346.7 846.0,339.4 846.2,348.6 846.4,345.5 846.5,340.3 846.7,340.9 846.9,349.7 847.1,338.2 847.3,338.3 847.5,340.2 847.7,346.5 847.9,347.5 848.1,355.9 848.3,339.0 848.5,350.5 848.6,334.2 848.8,344.9 849.0,340.9 849.2,354.6 849.4,345.0 849.6,336.0 849.8,344.8 850.0,342.8 850.2,337.2 850.4,337.4 850.6,331.9 850.7,363.3 850.9,341.1 851.1,348.2 851.3,330.0 851.5,330.7 851.7,338.6 851.9,338.7 852.1,346.7 852.3,331.4 852.5,344.5 852.6,352.8 852.8,332.2 853.0,347.7 853.2,331.8 853.4,342.9 853.6,343.0 853.8,354.7 854.0,334.1 854.2,341.4 854.4,348.8 854.6,330.0 854.7,339.9 854.9,332.5 855.1,334.0 855.3,345.7 855.5,345.9 855.7,361.8 855.9,351.6 856.1,350.9 856.3,338.5 856.5,337.4 856.7,341.1 856.8,320.6 857.0,354.0 857.2,334.2 857.4,330.9 857.6,336.0 857.8,347.3 858.0,350.4 858.2,336.6 858.4,343.5 858.6,339.3 858.8,331.3 858.9,341.2 859.1,340.0 859.3,326.7 859.5,349.1 859.7,326.4 859.9,341.7 860.1,330.8 860.3,332.8 860.5,333.7 860.7,345.7 860.9,329.0 861.0,338.1 861.2,352.9 861.4,333.8 861.6,339.4 861.8,345.3 862.0,334.7 862.2,343.7 862.4,334.0 862.6,345.6 862.8,340.2 862.9,331.7 863.1,351.6 863.3,338.8 863.5,337.3 863.7,331.8 863.9,335.6 864.1,338.8 864.3,341.1 864.5,349.0 864.7,328.4 864.9,336.7 865.0,349.8 865.2,341.2 865.4,343.1 865.6,353.2 865.8,342.5 866.0,343.6 866.2,339.3 866.4,354.6 866.6,348.5 866.8,333.5 867.0,344.3 867.1,329.8 867.3,348.8 867.5,345.3 867.7,338.2 867.9,336.2 868.1,324.3 868.3,346.1 868.5,338.6 868.7,336.9 868.9,345.7 869.1,333.9 869.2,334.5 869.4,333.6 869.6,328.0 869.8,360.0 870.0,337.9 870.2,336.5 870.4,347.1 870.6,312.7 870.8,339.2 871.0,339.6 871.2,331.2 871.3,343.4 871.5,322.2 871.7,339.4 871.9,346.8 872.1,320.3 872.3,326.8 872.5,337.7 872.7,338.8 872.9,333.3 873.1,341.8 873.2,340.7 873.4,327.1 873.6,337.6 873.8,327.5 874.0,320.6 874.2,317.7 874.4,346.9 874.6,337.0 874.8,354.7 875.0,325.6 875.2,335.0 875.3,340.9 875.5,336.8 875.7,342.3 875.9,339.3 876.1,332.8 876.3,318.3 876.5,330.0 876.7,352.8 876.9,344.7 877.1,349.9 877.3,333.2 877.4,336.6 877.6,330.8 877.8,341.6 878.0,338.9 878.2,342.2 878.4,353.4 878.6,331.3 878.8,344.7 879.0,326.5 879.2,347.8 879.4,334.7 879.5,337.8 879.7,339.6 879.9,352.5 880.1,338.2 880.3,334.2 880.5,328.4 880.7,340.8 880.9,331.2 881.1,334.2 881.3,338.2 881.5,344.2 881.6,332.4 881.8,344.2 882.0,353.5 882.2,325.8 882.4,350.1 882.6,356.8 882.8,333.4 883.0,343.7 883.2,326.8 883.4,341.4 883.6,335.7 883.7,341.1 883.9,330.7 884.1,331.5 884.3,334.6 884.5,332.4 884.7,333.1 884.9,336.7 885.1,328.9 885.3,337.1 885.5,342.4 885.6,318.6 885.8,340.0 886.0,331.9 886.2,328.7 886.4,326.8 886.6,330.9 886.8,331.8 887.0,341.1 887.2,327.4 887.4,347.0 887.6,331.1 887.7,343.9 887.9,347.4 888.1,327.8 888.3,347.3 888.5,356.9 888.7,334.6 888.9,343.5 889.1,337.5 889.3,339.4 889.5,337.2 889.7,334.6 889.8,345.1 890.0,346.5 890.2,339.0 890.4,352.0 890.6,348.4 890.8,345.1 891.0,333.1 891.2,355.4 891.4,350.5 891.6,321.0 891.8,329.9 891.9,335.3 892.1,347.3 892.3,349.9 892.5,336.9 892.7,341.5 892.9,345.3 893.1,328.6 893.3,344.5 893.5,336.8 893.7,341.0 893.9,339.1 894.0,329.4 894.2,331.0 894.4,339.8 894.6,340.6 894.8,337.3 895.0,348.5 895.2,336.5 895.4,329.2 895.6,336.6 895.8,338.0 895.9,338.4 896.1,349.4 896.3,343.8 896.5,348.5 896.7,344.8 896.9,338.1 897.1,348.3 897.3,337.3 897.5,341.6 897.7,331.0 897.9,340.4 898.0,336.8 898.2,342.7 898.4,355.0 898.6,359.7 898.8,348.2 899.0,339.3 899.2,346.6 899.4,341.5 899.6,334.4 899.8,339.0 900.0,337.4 900.1,334.4 900.3,351.3 900.5,335.0 900.7,335.4 900.9,345.6 901.1,333.7 901.3,329.8 901.5,332.3 901.7,343.7 901.9,342.8 902.1,342.1 902.2,335.6 902.4,331.8 902.6,347.3 902.8,327.3 903.0,337.8 903.2,328.3 903.4,336.2 903.6,338.3 903.8,350.1 904.0,315.3 904.2,351.2 904.3,332.1 904.5,342.2 904.7,346.5 904.9,333.2 905.1,338.9 905.3,343.9 905.5,338.6 905.7,333.4 905.9,341.3 906.1,340.6 906.3,327.0 906.4,351.3 906.6,341.7 906.8,319.2 907.0,332.7 907.2,354.4 907.4,353.3 907.6,342.1 907.8,325.5 908.0,337.8 908.2,348.8 908.3,343.1 908.5,337.0 908.7,333.6 908.9,346.8 909.1,338.0 909.3,342.6 909.5,344.0 909.7,353.8 909.9,341.4 910.1,342.1 910.3,324.7 910.4,349.3 910.6,347.4 910.8,339.7 911.0,320.5 911.2,335.1 911.4,340.5 911.6,357.7 911.8,344.9 912.0,346.6 912.2,346.8 912.4,351.2 912.5,330.2 912.7,332.6 912.9,329.8 913.1,337.4 913.3,336.8 913.5,340.7 913.7,331.1 913.9,340.6 914.1,332.5 914.3,357.8 914.5,335.3 914.6,361.5 914.8,353.7 915.0,329.6 915.2,347.9 915.4,344.9 915.6,326.7 915.8,344.9 916.0,339.0 916.2,342.7 916.4,332.5 916.6,339.2 916.7,343.3 916.9,338.2 917.1,334.6 917.3,338.4 917.5,331.4 917.7,342.6 917.9,317.9 918.1,352.6 918.3,340.3 918.5,343.8 918.6,347.0 918.8,329.1 919.0,359.1 919.2,330.2 919.4,343.7 919.6,342.5 919.8,350.9 920.0,339.6 920.2,327.7 920.4,342.5 920.6,318.7 920.7,338.0 920.9,335.8 921.1,353.0 921.3,337.3 921.5,335.8 921.7,333.2 921.9,332.4 922.1,334.9 922.3,344.7 922.5,328.4 922.7,337.8 922.8,327.1 923.0,338.2 923.2,341.0 923.4,329.1 923.6,334.7 923.8,340.4" fill="none" stroke="#2f7bbd" stroke-width="0.85" stroke-linejoin="round" />
<rect x="606.0" y="366.9" width="132.4" height="88.2" fill="url(#rn3)" fill-opacity="0.82" stroke="#6e6a7c" stroke-width="1.6"/>
<rect x="597.1999999999999" y="375.8" width="132.4" height="88.2" fill="url(#rn2)" fill-opacity="0.82" stroke="#6e6a7c" stroke-width="1.6"/>
<rect x="588.4" y="384.7" width="132.4" height="88.2" fill="url(#rn1)" fill-opacity="0.82" stroke="#6e6a7c" stroke-width="1.6"/>
<text x="623.7" y="404.6" font-size="19.5" font-weight="normal" fill="#1d2a4e" stroke="#1d2a4e" stroke-width="0.3" textLength="62.3" lengthAdjust="spacingAndGlyphs" >ResNet</text>
<line x1="616.6" y1="438.7" x2="643" y2="420.7" stroke="#5a5a5a" stroke-width="1.3"/>
<line x1="643" y1="420.7" x2="674.5" y2="420.7" stroke="#5a5a5a" stroke-width="1.1"/>
<line x1="643" y1="420.7" x2="674.5" y2="438.7" stroke="#5a5a5a" stroke-width="1.1"/>
<line x1="643" y1="420.7" x2="674.5" y2="456.7" stroke="#5a5a5a" stroke-width="1.1"/>
<line x1="616.6" y1="438.7" x2="643" y2="438.7" stroke="#5a5a5a" stroke-width="1.3"/>
<line x1="643" y1="438.7" x2="674.5" y2="420.7" stroke="#5a5a5a" stroke-width="1.1"/>
<line x1="643" y1="438.7" x2="674.5" y2="438.7" stroke="#5a5a5a" stroke-width="1.1"/>
<line x1="643" y1="438.7" x2="674.5" y2="456.7" stroke="#5a5a5a" stroke-width="1.1"/>
<line x1="616.6" y1="438.7" x2="643" y2="456.7" stroke="#5a5a5a" stroke-width="1.3"/>
<line x1="643" y1="456.7" x2="674.5" y2="420.7" stroke="#5a5a5a" stroke-width="1.1"/>
<line x1="643" y1="456.7" x2="674.5" y2="438.7" stroke="#5a5a5a" stroke-width="1.1"/>
<line x1="643" y1="456.7" x2="674.5" y2="456.7" stroke="#5a5a5a" stroke-width="1.1"/>
<ellipse cx="616.6" cy="438.7" rx="7.6" ry="6.4" fill="#f4cdd2" stroke="#6a6a6a" stroke-width="1.4"/>
<ellipse cx="643" cy="420.7" rx="7.4" ry="6.6" fill="#dcf0d6" stroke="#6a6a6a" stroke-width="1.4"/>
<ellipse cx="674.5" cy="420.7" rx="7.4" ry="6.6" fill="#dcf0d6" stroke="#6a6a6a" stroke-width="1.4"/>
<ellipse cx="643" cy="438.7" rx="7.4" ry="6.6" fill="#dcf0d6" stroke="#6a6a6a" stroke-width="1.4"/>
<ellipse cx="674.5" cy="438.7" rx="7.4" ry="6.6" fill="#dcf0d6" stroke="#6a6a6a" stroke-width="1.4"/>
<ellipse cx="643" cy="456.7" rx="7.4" ry="6.6" fill="#dcf0d6" stroke="#6a6a6a" stroke-width="1.4"/>
<ellipse cx="674.5" cy="456.7" rx="7.4" ry="6.6" fill="#dcf0d6" stroke="#6a6a6a" stroke-width="1.4"/>
<rect x="957.6999999999999" y="360.90000000000003" width="132.4" height="88.2" fill="url(#rn3)" fill-opacity="0.82" stroke="#6e6a7c" stroke-width="1.6"/>
<rect x="948.8" y="370.1" width="132.4" height="88.2" fill="url(#rn2)" fill-opacity="0.82" stroke="#6e6a7c" stroke-width="1.6"/>
<rect x="939.9" y="379.3" width="132.4" height="88.2" fill="url(#rn1)" fill-opacity="0.82" stroke="#6e6a7c" stroke-width="1.6"/>
<text x="976" y="399.1" font-size="19.5" font-weight="normal" fill="#1d2a4e" stroke="#1d2a4e" stroke-width="0.3" textLength="62.3" lengthAdjust="spacingAndGlyphs" >ResNet</text>
<line x1="968.7" y1="433.4" x2="994.7" y2="415.1" stroke="#5a5a5a" stroke-width="1.3"/>
<line x1="994.7" y1="415.1" x2="1026.3" y2="415.1" stroke="#5a5a5a" stroke-width="1.1"/>
<line x1="994.7" y1="415.1" x2="1026.3" y2="433.4" stroke="#5a5a5a" stroke-width="1.1"/>
<line x1="994.7" y1="415.1" x2="1026.3" y2="451.7" stroke="#5a5a5a" stroke-width="1.1"/>
<line x1="968.7" y1="433.4" x2="994.7" y2="433.4" stroke="#5a5a5a" stroke-width="1.3"/>
<line x1="994.7" y1="433.4" x2="1026.3" y2="415.1" stroke="#5a5a5a" stroke-width="1.1"/>
<line x1="994.7" y1="433.4" x2="1026.3" y2="433.4" stroke="#5a5a5a" stroke-width="1.1"/>
<line x1="994.7" y1="433.4" x2="1026.3" y2="451.7" stroke="#5a5a5a" stroke-width="1.1"/>
<line x1="968.7" y1="433.4" x2="994.7" y2="451.7" stroke="#5a5a5a" stroke-width="1.3"/>
<line x1="994.7" y1="451.7" x2="1026.3" y2="415.1" stroke="#5a5a5a" stroke-width="1.1"/>
<line x1="994.7" y1="451.7" x2="1026.3" y2="433.4" stroke="#5a5a5a" stroke-width="1.1"/>
<line x1="994.7" y1="451.7" x2="1026.3" y2="451.7" stroke="#5a5a5a" stroke-width="1.1"/>
<ellipse cx="968.7" cy="433.4" rx="7.6" ry="6.4" fill="#f4cdd2" stroke="#6a6a6a" stroke-width="1.4"/>
<ellipse cx="994.7" cy="415.1" rx="7.4" ry="6.6" fill="#dcf0d6" stroke="#6a6a6a" stroke-width="1.4"/>
<ellipse cx="1026.3" cy="415.1" rx="7.4" ry="6.6" fill="#dcf0d6" stroke="#6a6a6a" stroke-width="1.4"/>
<ellipse cx="994.7" cy="433.4" rx="7.4" ry="6.6" fill="#dcf0d6" stroke="#6a6a6a" stroke-width="1.4"/>
<ellipse cx="1026.3" cy="433.4" rx="7.4" ry="6.6" fill="#dcf0d6" stroke="#6a6a6a" stroke-width="1.4"/>
<ellipse cx="994.7" cy="451.7" rx="7.4" ry="6.6" fill="#dcf0d6" stroke="#6a6a6a" stroke-width="1.4"/>
<ellipse cx="1026.3" cy="451.7" rx="7.4" ry="6.6" fill="#dcf0d6" stroke="#6a6a6a" stroke-width="1.4"/>
<line x1="281.7" y1="195.3" x2="439.4" y2="195.3" stroke="#4a5462" stroke-width="2.3"/>
<path d="M444.5 195.3 L436.0 190.70000000000002 L437.7 195.3 L436.0 199.9 Z" fill="#4a5462"/>
<line x1="521.3" y1="194.6" x2="592.4" y2="194.6" stroke="#4a5462" stroke-width="2.3"/>
<path d="M597.5 194.6 L589.0 190.0 L590.7 194.6 L589.0 199.2 Z" fill="#4a5462"/>
<line x1="857" y1="194.6" x2="928.1999999999999" y2="194.6" stroke="#4a5462" stroke-width="2.3"/>
<path d="M933.3 194.6 L924.8 190.0 L926.5 194.6 L924.8 199.2 Z" fill="#4a5462"/>
<line x1="1009.4" y1="194.5" x2="1167.7" y2="194.5" stroke="#4a5462" stroke-width="2.3"/>
<path d="M1172.8 194.5 L1164.3 189.9 L1166.0 194.5 L1164.3 199.1 Z" fill="#4a5462"/>
<line x1="1173.7" y1="415.6" x2="1098.8" y2="415.6" stroke="#4a5462" stroke-width="2.3"/>
<path d="M1093.7 415.6 L1102.2 411.0 L1100.5 415.6 L1102.2 420.20000000000005 Z" fill="#4a5462"/>
<line x1="939.9" y1="415.6" x2="905.7" y2="415.6" stroke="#4a5462" stroke-width="2.3"/>
<path d="M900.6 415.6 L909.1 411.0 L907.4 415.6 L909.1 420.20000000000005 Z" fill="#4a5462"/>
<line x1="824" y1="415.6" x2="743.9" y2="415.6" stroke="#4a5462" stroke-width="2.3"/>
<path d="M738.8 415.6 L747.3 411.0 L745.5999999999999 415.6 L747.3 420.20000000000005 Z" fill="#4a5462"/>
<line x1="588.4" y1="415.1" x2="527.7" y2="415.1" stroke="#4a5462" stroke-width="2.3"/>
<path d="M522.6 415.1 L531.1 410.5 L529.4 415.1 L531.1 419.70000000000005 Z" fill="#4a5462"/>
<line x1="444.8" y1="415.3" x2="287.40000000000003" y2="415.3" stroke="#4a5462" stroke-width="2.3"/>
<path d="M282.3 415.3 L290.8 410.7 L289.1 415.3 L290.8 419.90000000000003 Z" fill="#4a5462"/>
<path d="M532 168 C 640 130.7, 814 130.7, 914 165" fill="none" stroke="#454c58" stroke-width="2.6" stroke-dasharray="10 7.5"/>
<rect x="664" y="128" width="110" height="34" fill="#b8cde5"/>
<path d="M922 168.5 L910 170 L914 165.5 L911 160 Z" fill="#454c58"/>
<text x="679" y="153" font-size="21" font-weight="normal" fill="#1d2a4e" stroke="#1d2a4e" stroke-width="0.3" textLength="89" lengthAdjust="spacingAndGlyphs" >q(x<tspan font-size="14" dy="4">t</tspan><tspan dy="-4">|x</tspan><tspan font-size="14" dy="4">t-1</tspan><tspan dy="-4">)</tspan></text>
<path d="M850 451 C 822 522, 514 522, 488 459" fill="none" stroke="#454c58" stroke-width="2.6" stroke-dasharray="10 7.5"/>
<rect x="603" y="488" width="124" height="30" fill="#b8cde5"/>
<path d="M486 452.5 L482.5 461 L487.5 459 L492 462 Z" fill="#454c58"/>
<text x="614.3" y="505" font-size="21" font-weight="normal" fill="#1d2a4e" stroke="#1d2a4e" stroke-width="0.3" textLength="100" lengthAdjust="spacingAndGlyphs" >p<tspan font-size="14" dy="3">θ</tspan><tspan dy="-3">(x</tspan><tspan font-size="14" dy="4">t-1</tspan><tspan dy="-4">|x</tspan><tspan font-size="14" dy="4">t</tspan><tspan dy="-4">)</tspan></text>
<text x="150.6" y="128.9" font-size="19.5" font-weight="normal" fill="#1d2a4e" stroke="#1d2a4e" stroke-width="0.3" textLength="142.8" lengthAdjust="spacingAndGlyphs" >Raman spectrum</text>
<text x="132.2" y="496" font-size="20.5" font-weight="normal" fill="#1d2a4e" stroke="#1d2a4e" stroke-width="0.3" textLength="171" lengthAdjust="spacingAndGlyphs" >Generated spectrum</text>
<text x="1176.2" y="130.7" font-size="19.5" font-weight="normal" fill="#1d2a4e" stroke="#1d2a4e" stroke-width="0.3" textLength="127.8" lengthAdjust="spacingAndGlyphs" >Gaussian noise</text>
<text x="1176.3" y="495" font-size="19.5" font-weight="normal" fill="#1d2a4e" stroke="#1d2a4e" stroke-width="0.3" textLength="127.4" lengthAdjust="spacingAndGlyphs" >Gaussian noise</text>
<path d="M218 551 L218 778 L318 778" fill="none" stroke="#a8141b" stroke-width="3.2" stroke-dasharray="16 14"/>
<path d="M330 778 L317 771.5 L320 778 L317 784.5 Z" fill="#a8141b"/>
<rect x="449.3" y="642.9" width="33.5" height="38.76" fill="url(#cell)" stroke="#3d434b" stroke-width="1.8"/>
<rect x="449.3" y="681.7" width="33.5" height="38.76" fill="url(#cell)" stroke="#3d434b" stroke-width="1.8"/>
<rect x="449.3" y="720.4" width="33.5" height="38.76" fill="url(#cell)" stroke="#3d434b" stroke-width="1.8"/>
<rect x="449.3" y="759.2" width="33.5" height="38.76" fill="url(#cell)" stroke="#3d434b" stroke-width="1.8"/>
<rect x="449.3" y="797.9" width="33.5" height="38.76" fill="url(#cell)" stroke="#3d434b" stroke-width="1.8"/>
<rect x="449.3" y="836.7" width="33.5" height="38.76" fill="url(#cell)" stroke="#3d434b" stroke-width="1.8"/>
<rect x="449.3" y="875.5" width="33.5" height="38.76" fill="url(#cell)" stroke="#3d434b" stroke-width="1.8"/>
<polyline points="436.2,644.0 436.4,644.3 436.7,644.6 436.8,644.9 437.0,645.2 437.3,645.5 437.3,645.8 437.4,646.1 437.5,646.4 437.6,646.7 437.6,647.0 437.5,647.3 437.4,647.6 437.3,647.9 437.2,648.2 437.0,648.5 436.8,648.8 436.5,649.1 436.2,649.4 435.8,649.7 435.4,650.0 435.2,650.3 434.8,650.6 434.5,650.9 434.3,651.2 434.0,651.5 433.7,651.8 433.4,652.0 433.2,652.3 433.1,652.6 433.0,652.9 432.9,653.2 432.8,653.5 432.8,653.8 432.8,654.1 432.9,654.4 433.0,654.7 433.1,655.0 433.5,655.3 433.6,655.6 433.7,655.9 433.9,656.2 434.2,656.5 434.5,656.8 435.1,657.1 435.5,657.4 435.8,657.7 436.0,658.0 436.2,658.3 436.6,658.6 436.9,658.9 437.1,659.2 437.2,659.5 437.3,659.8 437.4,660.1 437.4,660.4 437.3,660.7 437.2,661.0 437.1,661.3 436.9,661.6 436.8,661.9 436.3,662.2 435.9,662.5 435.6,662.8 435.0,663.1 434.6,663.4 434.3,663.7 433.6,664.0 432.8,664.3 432.5,664.6 431.8,664.9 431.4,665.2 431.1,665.5 430.8,665.8 430.5,666.1 430.1,666.4 429.8,666.7 429.6,667.0 429.5,667.3 429.5,667.6 429.5,667.8 429.7,668.1 430.2,668.4 430.5,668.7 430.9,669.0 431.3,669.3 431.9,669.6 432.2,669.9 432.5,670.2 433.1,670.5 433.5,670.8 434.3,671.1 435.0,671.4 435.5,671.7 436.0,672.0 436.4,672.3 436.8,672.6 437.0,672.9 437.0,673.2 436.9,673.5 436.8,673.8 436.7,674.1 436.3,674.4 435.8,674.7 435.2,675.0 434.9,675.3 434.4,675.6 434.0,675.9 433.1,676.2 432.7,676.5 432.3,676.8 431.8,677.1 431.4,677.4 430.7,677.7 430.2,678.0 429.9,678.3 429.6,678.6 429.4,678.9 429.1,679.2 429.0,679.5 428.9,679.8 428.9,680.1 428.9,680.4 429.0,680.7 429.1,681.0 429.3,681.3 429.5,681.6 429.7,681.9 429.9,682.2 430.2,682.5 430.8,682.8 431.0,683.1 431.2,683.4 431.6,683.6 432.2,683.9 432.7,684.2 433.0,684.5 433.2,684.8 433.5,685.1 433.7,685.4 433.7,685.7 433.8,686.0 433.8,686.3 433.8,686.6 433.7,686.9 433.5,687.2 433.3,687.5 433.1,687.8 432.8,688.1 432.6,688.4 432.4,688.7 432.1,689.0 431.7,689.3 431.5,689.6 431.1,689.9 430.8,690.2 430.5,690.5 430.2,690.8 430.0,691.1 429.7,691.4 429.5,691.7 429.2,692.0 429.1,692.3 429.0,692.6 428.9,692.9 428.9,693.2 428.9,693.5 429.0,693.8 429.1,694.1 429.1,694.4 429.3,694.7 429.4,695.0 429.5,695.3 429.8,695.6 430.1,695.9 430.4,696.2 430.8,696.5 431.2,696.8 431.4,697.1 431.7,697.4 431.9,697.7 432.1,698.0 432.3,698.3 432.4,698.6 432.5,698.9 432.5,699.2 432.5,699.4 432.4,699.7 432.2,700.0 432.0,700.3 431.7,700.6 431.5,700.9 431.1,701.2 430.6,701.5 430.1,701.8 429.6,702.1 429.1,702.4 428.5,702.7 428.2,703.0 427.7,703.3 427.4,703.6 427.1,703.9 426.8,704.2 426.6,704.5 426.4,704.8 426.3,705.1 426.2,705.4 426.3,705.7 426.4,706.0 426.5,706.3 426.8,706.6 427.0,706.9 427.3,707.2 427.9,707.5 428.2,707.8 428.5,708.1 428.7,708.4 429.2,708.7 430.0,709.0 430.3,709.3 431.1,709.6 431.6,709.9 431.8,710.2 432.2,710.5 432.4,710.8 432.7,711.1 432.8,711.4 432.9,711.7 432.9,712.0 432.8,712.3 432.5,712.6 432.2,712.9 431.8,713.2 431.3,713.5 430.5,713.8 430.1,714.1 429.7,714.4 429.2,714.7 428.5,714.9 428.1,715.2 427.7,715.5 427.3,715.8 426.7,716.1 426.0,716.4 425.5,716.7 425.2,717.0 425.0,717.3 424.6,717.6 424.3,717.9 424.1,718.2 424.1,718.5 424.2,718.8 424.5,719.1 424.7,719.4 425.2,719.7 425.5,720.0 425.8,720.3 426.4,720.6 426.6,720.9 427.3,721.2 427.9,721.5 428.7,721.8 429.1,722.1 429.4,722.4 429.9,722.7 430.3,723.0 430.7,723.3 430.8,723.6 430.8,723.9 430.8,724.2 430.7,724.5 430.5,724.8 430.3,725.1 430.0,725.4 429.6,725.7 429.2,726.0 428.8,726.3 428.2,726.6 427.9,726.9 427.4,727.2 427.1,727.5 426.5,727.8 426.1,728.1 425.8,728.4 425.6,728.7 425.3,729.0 425.0,729.3 424.9,729.6 424.8,729.9 424.7,730.2 424.6,730.5 424.5,730.7 424.5,731.0 424.6,731.3 424.9,731.6 425.1,731.9 425.3,732.2 425.6,732.5 425.8,732.8 426.0,733.1 426.2,733.4 426.5,733.7 426.7,734.0 426.8,734.3 427.1,734.6 427.3,734.9 427.5,735.2 427.7,735.5 427.8,735.8 427.9,736.1 427.9,736.4 428.0,736.7 428.0,737.0 428.0,737.3 427.9,737.6 427.8,737.9 427.7,738.2 427.6,738.5 427.3,738.8 427.2,739.1 427.0,739.4 426.8,739.7 426.6,740.0 426.3,740.3 426.0,740.6 425.5,740.9 425.2,741.2 424.9,741.5 424.6,741.8 424.4,742.1 424.1,742.4 423.8,742.7 423.6,743.0 423.4,743.3 423.2,743.6 423.0,743.9 422.8,744.2 422.8,744.5 422.8,744.8 422.9,745.1 423.0,745.4 423.2,745.7 423.5,746.0 423.9,746.3 424.4,746.5 424.9,746.8 425.5,747.1 425.8,747.4 426.0,747.7 426.3,748.0 426.6,748.3 427.1,748.6 427.4,748.9 427.6,749.2 427.9,749.5 428.0,749.8 428.1,750.1 428.1,750.4 428.1,750.7 428.0,751.0 427.7,751.3 427.5,751.6 427.2,751.9 426.6,752.2 426.3,752.5 426.0,752.8 425.6,753.1 425.3,753.4 424.5,753.7 424.1,754.0 423.2,754.3 422.8,754.6 422.3,754.9 421.7,755.2 421.3,755.5 420.8,755.8 420.6,756.1 420.3,756.4 420.1,756.7 419.9,757.0 419.7,757.3 419.7,757.6 419.7,757.9 419.8,758.2 420.2,758.5 420.4,758.8 420.8,759.1 421.3,759.4 422.0,759.7 422.6,760.0 423.0,760.3 423.4,760.6 424.1,760.9 424.8,761.2 425.5,761.5 426.1,761.8 426.5,762.1 426.6,762.3 427.0,762.6 427.1,762.9 427.1,763.2 427.0,763.5 426.9,763.8 426.6,764.1 426.3,764.4 425.9,764.7 425.4,765.0 424.6,765.3 423.9,765.6 423.4,765.9 422.9,766.2 422.1,766.5 421.6,766.8 421.0,767.1 420.7,767.4 420.4,767.7 420.0,768.0 419.7,768.3 419.4,768.6 419.4,768.9 419.3,769.2 419.4,769.5 419.5,769.8 419.7,770.1 419.9,770.4 420.3,770.7 420.6,771.0 420.9,771.3 421.2,771.6 421.6,771.9 422.0,772.2 422.4,772.5 422.6,772.8 422.9,773.1 423.2,773.4 423.5,773.7 423.7,774.0 423.8,774.3 423.9,774.6 423.9,774.9 423.9,775.2 423.9,775.5 423.7,775.8 423.6,776.1 423.3,776.4 423.1,776.7 422.7,777.0 422.3,777.3 422.0,777.6 421.6,777.9 421.2,778.1 420.8,778.4 420.5,778.7 420.3,779.0 420.1,779.3 419.8,779.6 419.6,779.9 419.3,780.2 419.2,780.5 419.0,780.8 418.9,781.1 419.0,781.4 419.0,781.7 419.1,782.0 419.1,782.3 419.2,782.6 419.4,782.9 419.4,783.2 419.6,783.5 419.6,783.8 420.0,784.1 420.2,784.4 420.5,784.7 420.7,785.0 421.1,785.3 421.4,785.6 421.6,785.9 421.8,786.2 421.9,786.5 422.0,786.8 422.0,787.1 422.1,787.4 422.1,787.7 422.1,788.0 422.0,788.3 421.9,788.6 421.7,788.9 421.6,789.2 421.4,789.5 421.3,789.8 420.8,790.1 420.3,790.4 419.8,790.7 419.1,791.0 418.7,791.3 418.0,791.6 417.6,791.9 417.1,792.2 416.5,792.5 416.0,792.8 415.6,793.1 415.3,793.4 415.1,793.7 414.8,793.9 414.6,794.2 414.5,794.5 414.6,794.8 414.7,795.1 415.0,795.4 415.2,795.7 415.8,796.0 416.1,796.3 416.3,796.6 416.8,796.9 417.3,797.2 417.8,797.5 418.3,797.8 418.4,798.1 418.8,798.4 419.2,798.7 419.4,799.0 419.6,799.3 419.5,799.6 419.3,799.9 419.0,800.2 418.5,800.5 418.0,800.8 417.2,801.1 416.5,801.4 415.6,801.7 414.5,802.0 413.4,802.3 412.3,802.6 411.0,802.9 410.1,803.2 409.3,803.5 408.1,803.8 406.8,804.1 405.7,804.4 404.7,804.7 403.7,805.0 402.6,805.3 401.5,805.6 400.3,805.9 399.1,806.2 397.9,806.5 396.6,806.8 395.1,807.1 393.2,807.4 391.3,807.7 389.3,808.0 386.6,808.3 383.5,808.6 380.3,808.9 376.2,809.2 371.8,809.5 366.4,809.7 360.8,810.0 354.4,810.3 347.7,810.6 341.4,810.9 335.9,811.2 331.6,811.5 329.1,811.8 328.8,812.1 330.7,812.4 334.6,812.7 340.0,813.0 346.0,813.3 352.4,813.6 358.7,813.9 364.5,814.2 369.9,814.5 374.8,814.8 378.9,815.1 382.4,815.4 385.3,815.7 387.8,816.0 390.0,816.3 391.9,816.6 393.6,816.9 395.2,817.2 396.7,817.5 398.0,817.8 399.2,818.1 400.3,818.4 401.3,818.7 402.3,819.0 403.1,819.3 403.9,819.6 404.6,819.9 405.4,820.2 405.9,820.5 406.5,820.8 407.0,821.1 407.4,821.4 408.0,821.7 408.3,822.0 408.7,822.3 409.0,822.6 409.3,822.9 409.4,823.2 409.5,823.5 409.5,823.8 409.4,824.1 409.3,824.4 409.2,824.7 408.9,825.0 408.6,825.3 408.2,825.5 407.8,825.8 407.2,826.1 406.5,826.4 405.8,826.7 405.0,827.0 404.0,827.3 402.8,827.6 401.4,827.9 399.8,828.2 398.1,828.5 396.3,828.8 394.2,829.1 391.8,829.4 389.0,829.7 385.8,830.0 382.3,830.3 378.3,830.6 373.8,830.9 368.9,831.2 363.5,831.5 357.9,831.8 352.2,832.1 346.9,832.4 342.3,832.7 339.1,833.0 337.7,833.3 338.4,833.6 340.9,833.9 345.0,834.2 350.4,834.5 356.0,834.8 362.1,835.1 367.8,835.4 373.2,835.7 378.1,836.0 382.4,836.3 386.6,836.6 390.2,836.9 393.4,837.2 396.1,837.5 398.4,837.8 400.4,838.1 402.1,838.4 403.6,838.7 404.7,839.0 405.5,839.3 406.3,839.6 406.8,839.9 407.3,840.2 407.6,840.5 407.9,840.8 407.9,841.1 407.8,841.3 407.8,841.6 407.7,841.9 407.4,842.2 407.1,842.5 407.0,842.8 406.9,843.1 406.8,843.4 406.6,843.7 406.4,844.0 406.4,844.3 406.5,844.6 406.8,844.9 407.0,845.2 407.3,845.5 407.8,845.8 408.2,846.1 409.0,846.4 409.6,846.7 410.4,847.0 411.2,847.3 411.7,847.6 412.6,847.9 413.2,848.2 413.6,848.5 414.0,848.8 414.5,849.1 415.1,849.4 415.4,849.7 415.9,850.0 416.1,850.3 416.3,850.6 416.3,850.9 416.3,851.2 416.3,851.5 416.2,851.8 416.0,852.1 415.7,852.4 415.3,852.7 414.8,853.0 414.3,853.3 413.9,853.6 413.2,853.9 412.6,854.2 412.0,854.5 411.3,854.8 410.8,855.1 410.4,855.4 410.2,855.7 409.8,856.0 409.5,856.3 409.4,856.6 409.4,856.8 409.4,857.1 409.6,857.4 409.7,857.7 410.0,858.0 410.3,858.3 410.6,858.6 410.9,858.9 411.1,859.2 411.5,859.5 412.0,859.8 412.2,860.1 412.5,860.4 413.0,860.7 413.2,861.0 413.5,861.3 413.9,861.6 414.1,861.9 414.2,862.2 414.4,862.5 414.5,862.8 414.5,863.1 414.5,863.4 414.4,863.7 414.3,864.0 414.2,864.3 414.0,864.6 413.9,864.9 413.7,865.2 413.5,865.5 413.2,865.8 412.9,866.1 412.6,866.4 412.2,866.7 412.0,867.0 411.7,867.3 411.6,867.6 411.3,867.9 411.1,868.2 411.0,868.5 410.8,868.8 410.6,869.1 410.3,869.4 410.2,869.7 410.0,870.0 409.9,870.3 409.8,870.6 409.8,870.9 409.8,871.2 409.8,871.5 409.9,871.8 410.0,872.1 410.1,872.4 410.4,872.6 410.6,872.9 410.9,873.2 411.0,873.5 411.4,873.8 411.6,874.1 411.9,874.4 412.3,874.7 412.6,875.0 412.9,875.3 413.2,875.6 413.2,875.9 413.3,876.2 413.2,876.5 413.1,876.8 412.8,877.1 412.4,877.4 411.9,877.7 411.2,878.0 410.4,878.3 408.7,878.6 405.0,878.9 398.3,879.2 389.0,879.5 381.1,879.8 379.6,880.1 385.0,880.4 393.6,880.7 400.5,881.0 404.4,881.3 406.0,881.6 406.4,881.9 406.4,882.2 406.6,882.5 406.4,882.8 406.5,883.1 406.5,883.4 406.5,883.7 406.6,884.0 406.7,884.3 406.8,884.6 407.0,884.9 407.3,885.2 407.7,885.5 408.2,885.8 408.6,886.1 408.8,886.4 409.2,886.7 409.7,887.0 410.3,887.3 410.8,887.6 411.3,887.9 411.6,888.2 412.2,888.4 412.5,888.7 413.0,889.0 413.4,889.3 413.8,889.6 413.9,889.9 414.1,890.2 414.2,890.5 414.1,890.8 414.0,891.1 413.8,891.4 413.4,891.7 413.1,892.0 412.8,892.3 412.3,892.6 412.0,892.9 411.2,893.2 410.4,893.5 409.9,893.8 409.2,894.1 408.6,894.4 407.7,894.7 407.4,895.0 407.0,895.3 406.6,895.6 406.2,895.9 405.9,896.2 405.7,896.5 405.7,896.8 405.6,897.1 405.7,897.4 405.7,897.7 405.9,898.0 406.2,898.3 406.4,898.6 406.7,898.9 407.1,899.2 407.4,899.5 407.8,899.8 408.5,900.1 408.9,900.4 409.2,900.7 409.7,901.0 410.3,901.3 410.7,901.6 411.1,901.9 411.4,902.2 411.5,902.5 411.6,902.8 411.6,903.1 411.5,903.4 411.3,903.7 411.1,904.0 410.8,904.2 410.5,904.5 410.0,904.8 409.8,905.1 409.2,905.4 408.7,905.7 408.4,906.0 408.1,906.3 407.6,906.6 407.1,906.9 406.8,907.2 406.7,907.5 406.6,907.8 406.4,908.1 406.2,908.4 406.1,908.7 406.1,909.0 406.1,909.3 406.3,909.6 406.4,909.9 406.6,910.2 406.7,910.5 406.9,910.8 407.0,911.1 407.1,911.4 407.4,911.7 407.5,912.0" fill="none" stroke="#e07c22" stroke-width="2.6" stroke-linejoin="round" />
<text x="410" y="954" font-size="30" font-weight="bold" fill="#000" stroke="#000" stroke-width="0.3" textLength="70" lengthAdjust="spacingAndGlyphs" >Input</text>
<line x1="495.3" y1="792.4" x2="533.2" y2="792.4" stroke="#2a3990" stroke-width="2.6"/>
<path d="M541.2 792.4 L529.2 786.1999999999999 L529.2 798.6 Z" fill="#2a3990"/>
<line x1="825.2" y1="792.7" x2="862.6" y2="792.7" stroke="#2a3990" stroke-width="2.6"/>
<path d="M870.6 792.7 L858.6 786.5 L858.6 798.9000000000001 Z" fill="#2a3990"/>
<line x1="931.6" y1="792.3" x2="969" y2="792.3" stroke="#2a3990" stroke-width="2.6"/>
<path d="M977 792.3 L965 786.0999999999999 L965 798.5 Z" fill="#2a3990"/>
<line x1="1032.4" y1="792.3" x2="1069.6" y2="792.3" stroke="#2a3990" stroke-width="2.6"/>
<path d="M1077.6 792.3 L1065.6 786.0999999999999 L1065.6 798.5 Z" fill="#2a3990"/>
<line x1="1130.8" y1="792.3" x2="1167.9" y2="792.3" stroke="#2a3990" stroke-width="2.6"/>
<path d="M1175.9 792.3 L1163.9 786.0999999999999 L1163.9 798.5 Z" fill="#2a3990"/>
<path d="M545.5 712.5 L586.0 697.6 L586.0 857.5 L545.5 872 Z" fill="#fcd19f" stroke="#656565" stroke-width="2" stroke-linejoin="miter"/>
<path d="M574.0 712.5 L614.0 697.6 L614.0 857.5 L574.0 871.5 Z" fill="#c8f2a8" stroke="#656565" stroke-width="2" stroke-linejoin="miter"/>
<path d="M601.5 712.5 L642.0 697.4 L642.0 857.7 L601.5 871 Z" fill="#d3e8fb" stroke="#656565" stroke-width="2" stroke-linejoin="miter"/>
<path d="M715.3 712.5 L755.8 697.6 L755.8 857.5 L715.3 872 Z" fill="#fcd19f" stroke="#656565" stroke-width="2" stroke-linejoin="miter"/>
<path d="M743.8 712.5 L783.8 697.6 L783.8 857.5 L743.8 871.5 Z" fill="#c8f2a8" stroke="#656565" stroke-width="2" stroke-linejoin="miter"/>
<path d="M771.3 712.5 L811.8 697.4 L811.8 857.7 L771.3 871 Z" fill="#d3e8fb" stroke="#656565" stroke-width="2" stroke-linejoin="miter"/>
<circle cx="670" cy="797.5" r="2.2" fill="#111"/>
<circle cx="683" cy="797.5" r="2.2" fill="#111"/>
<circle cx="696" cy="797.5" r="2.2" fill="#111"/>
<path d="M880 707.7 L921.7 692.4 L921.7 854.9 L880 871.1 Z" fill="#696969" stroke="#696969" stroke-width="0.8" stroke-linejoin="miter"/>
<path d="M986.9 703.6 L1027.2 688.9 L1027.2 850.1 L986.9 865.6 Z" fill="#fff07a" stroke="#6b6b5a" stroke-width="1.8" stroke-linejoin="miter"/>
<path d="M1083.3 703.6 L1123.1 688.9 L1123.1 849.6 L1083.3 865.6 Z" fill="#9e4b1d" stroke="#6d4a35" stroke-width="1.5" stroke-linejoin="miter"/>
<ellipse cx="1225.2" cy="776.9" rx="36.9" ry="34.5" fill="#4655b0" stroke="#2e3a7c" stroke-width="1.6"/>
<text x="1178.4" y="855.3" font-size="26" font-weight="bold" fill="#000" stroke="#000" stroke-width="0.3" textLength="91.3" lengthAdjust="spacingAndGlyphs" >Output</text>
<path d="M609.6 684 L609.6 678 Q609.6 673 614.6 673 L683 673 Q688 673 688 663 Q688 673 693 673 L761 673 Q766 673 766 678 L766 684" fill="none" stroke="#2b3a8f" stroke-width="2.4"/>
<path d="M995.1 678.6 L995.1 675.1 Q995.1 670.1 1000.1 670.1 L1053.3 670.1 Q1058.3 670.1 1058.3 662.4 Q1058.3 670.1 1063.3 670.1 L1114.5 670.1 Q1119.5 670.1 1119.5 675.1 L1119.5 678.6" fill="none" stroke="#2b3a8f" stroke-width="2.4"/>
<text x="589.6" y="620" font-size="22.7" font-weight="bold" fill="#000" stroke="#000" stroke-width="0.3" textLength="199.4" lengthAdjust="spacingAndGlyphs" >Feature extraction</text>
<text x="589" y="649.6" font-size="21.8" font-weight="normal" fill="#000" stroke="#000" stroke-width="0.3" textLength="226" lengthAdjust="spacingAndGlyphs" >4 convolutional layers</text>
<text x="993.3" y="648.3" font-size="23" font-weight="bold" fill="#000" stroke="#000" stroke-width="0.3" textLength="145.3" lengthAdjust="spacingAndGlyphs" >Classification</text>
</svg></body></html>
